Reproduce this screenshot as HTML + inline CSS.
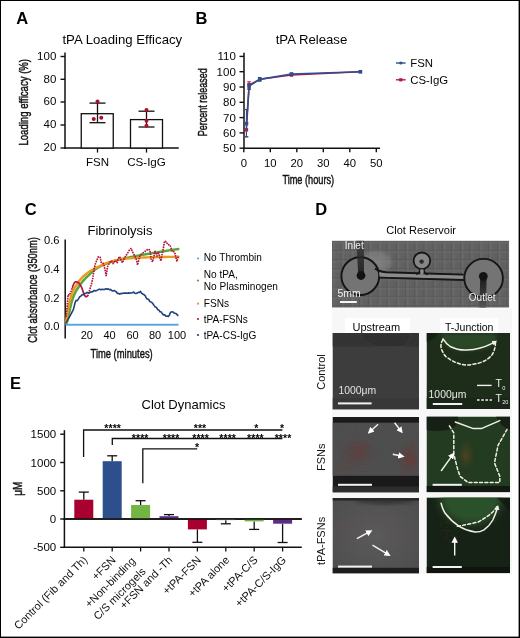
<!DOCTYPE html>
<html><head><meta charset="utf-8"><style>
html,body{margin:0;padding:0;background:#fff;}
svg{display:block;font-family:"Liberation Sans", sans-serif;will-change:transform;}
</style></head><body>
<svg width="520" height="638" viewBox="0 0 520 638">
<rect x="0" y="0" width="520" height="638" fill="#fff"/>
<text x="16.3" y="23.6" font-size="16.5" text-anchor="start" font-weight="bold" fill="#000" >A</text>
<text x="195.6" y="24" font-size="16.5" text-anchor="start" font-weight="bold" fill="#000" >B</text>
<text x="24.8" y="215" font-size="16.5" text-anchor="start" font-weight="bold" fill="#000" >C</text>
<text x="315.2" y="214.6" font-size="16.5" text-anchor="start" font-weight="bold" fill="#000" >D</text>
<text x="10" y="388.8" font-size="16.5" text-anchor="start" font-weight="bold" fill="#000" >E</text>
<text x="122.3" y="44.3" font-size="13.2" text-anchor="middle" font-weight="normal" fill="#050505" >tPA Loading Efficacy</text>
<line x1="65" y1="52.5" x2="65" y2="148.75" stroke="#111" stroke-width="1.5" />
<line x1="64.25" y1="148" x2="178.75" y2="148" stroke="#111" stroke-width="1.5" />
<line x1="60.5" y1="56.5" x2="65" y2="56.5" stroke="#111" stroke-width="1.4" />
<text x="56.3" y="59.7" font-size="11.5" text-anchor="end" font-weight="normal" fill="#050505" >100</text>
<line x1="60.5" y1="79.3" x2="65" y2="79.3" stroke="#111" stroke-width="1.4" />
<text x="56.3" y="82.5" font-size="11.5" text-anchor="end" font-weight="normal" fill="#050505" >80</text>
<line x1="60.5" y1="102" x2="65" y2="102" stroke="#111" stroke-width="1.4" />
<text x="56.3" y="105.2" font-size="11.5" text-anchor="end" font-weight="normal" fill="#050505" >60</text>
<line x1="60.5" y1="125" x2="65" y2="125" stroke="#111" stroke-width="1.4" />
<text x="56.3" y="128.2" font-size="11.5" text-anchor="end" font-weight="normal" fill="#050505" >40</text>
<line x1="60.5" y1="148" x2="65" y2="148" stroke="#111" stroke-width="1.4" />
<text x="56.3" y="151.2" font-size="11.5" text-anchor="end" font-weight="normal" fill="#050505" >20</text>
<g transform="translate(28.40,145.60) rotate(-90) scale(0.7157,1)"><text x="0" y="0" font-size="13.4" font-weight="normal" fill="#111" stroke="#111" stroke-width="0.45">Loading efficacy (%)</text></g>
<rect x="81.25" y="113.7" width="32.0" height="34.3" fill="#fff" stroke="#111" stroke-width="1.3"/>
<line x1="97.5" y1="103.1" x2="97.5" y2="122.7" stroke="#111" stroke-width="1.3" />
<line x1="89.5" y1="103.1" x2="105.5" y2="103.1" stroke="#111" stroke-width="1.3" />
<line x1="89.5" y1="122.7" x2="105.5" y2="122.7" stroke="#111" stroke-width="1.3" />
<circle cx="97.5" cy="101.5" r="2" fill="#ad0f2e"/>
<circle cx="93.75" cy="119" r="2" fill="#ad0f2e"/>
<circle cx="101.25" cy="117.75" r="2" fill="#ad0f2e"/>
<line x1="97.5" y1="148" x2="97.5" y2="152.6" stroke="#111" stroke-width="1.3" />
<rect x="130.5" y="119.6" width="32.0" height="28.400000000000006" fill="#fff" stroke="#111" stroke-width="1.3"/>
<line x1="146.5" y1="111.2" x2="146.5" y2="127" stroke="#111" stroke-width="1.3" />
<line x1="138.5" y1="111.2" x2="154.5" y2="111.2" stroke="#111" stroke-width="1.3" />
<line x1="138.5" y1="127" x2="154.5" y2="127" stroke="#111" stroke-width="1.3" />
<circle cx="146.5" cy="110" r="2" fill="#ad0f2e"/>
<circle cx="146.5" cy="120.75" r="2" fill="#ad0f2e"/>
<circle cx="146.5" cy="125.75" r="2" fill="#ad0f2e"/>
<line x1="146.5" y1="148" x2="146.5" y2="152.6" stroke="#111" stroke-width="1.3" />
<text x="97.5" y="166.2" font-size="11.5" text-anchor="middle" font-weight="normal" fill="#050505" >FSN</text>
<text x="146.5" y="166.2" font-size="11.6" text-anchor="middle" font-weight="normal" fill="#050505" >CS-IgG</text>
<text x="311.5" y="44.2" font-size="13.2" text-anchor="middle" font-weight="normal" fill="#050505" >tPA Release</text>
<line x1="244" y1="52.8" x2="244" y2="148.95" stroke="#111" stroke-width="1.5" />
<line x1="243.25" y1="148.2" x2="380" y2="148.2" stroke="#111" stroke-width="1.5" />
<line x1="239.5" y1="148.2" x2="244" y2="148.2" stroke="#111" stroke-width="1.4" />
<text x="235.8" y="152.2" font-size="11.5" text-anchor="end" font-weight="normal" fill="#050505" >50</text>
<line x1="239.5" y1="132.89999999999998" x2="244" y2="132.89999999999998" stroke="#111" stroke-width="1.4" />
<text x="235.8" y="136.89999999999998" font-size="11.5" text-anchor="end" font-weight="normal" fill="#050505" >60</text>
<line x1="239.5" y1="117.6" x2="244" y2="117.6" stroke="#111" stroke-width="1.4" />
<text x="235.8" y="121.6" font-size="11.5" text-anchor="end" font-weight="normal" fill="#050505" >70</text>
<line x1="239.5" y1="102.29999999999998" x2="244" y2="102.29999999999998" stroke="#111" stroke-width="1.4" />
<text x="235.8" y="106.29999999999998" font-size="11.5" text-anchor="end" font-weight="normal" fill="#050505" >80</text>
<line x1="239.5" y1="86.99999999999999" x2="244" y2="86.99999999999999" stroke="#111" stroke-width="1.4" />
<text x="235.8" y="90.99999999999999" font-size="11.5" text-anchor="end" font-weight="normal" fill="#050505" >90</text>
<line x1="239.5" y1="71.69999999999999" x2="244" y2="71.69999999999999" stroke="#111" stroke-width="1.4" />
<text x="235.8" y="75.69999999999999" font-size="11.5" text-anchor="end" font-weight="normal" fill="#050505" >100</text>
<line x1="239.5" y1="56.39999999999999" x2="244" y2="56.39999999999999" stroke="#111" stroke-width="1.4" />
<text x="235.8" y="60.39999999999999" font-size="11.5" text-anchor="end" font-weight="normal" fill="#050505" >110</text>
<line x1="243.8" y1="148.2" x2="243.8" y2="152.2" stroke="#111" stroke-width="1.4" />
<text x="243.8" y="166.9" font-size="11.3" text-anchor="middle" font-weight="normal" fill="#050505" >0</text>
<line x1="270.3" y1="148.2" x2="270.3" y2="152.2" stroke="#111" stroke-width="1.4" />
<text x="270.3" y="166.9" font-size="11.3" text-anchor="middle" font-weight="normal" fill="#050505" >10</text>
<line x1="296.8" y1="148.2" x2="296.8" y2="152.2" stroke="#111" stroke-width="1.4" />
<text x="296.8" y="166.9" font-size="11.3" text-anchor="middle" font-weight="normal" fill="#050505" >20</text>
<line x1="323.3" y1="148.2" x2="323.3" y2="152.2" stroke="#111" stroke-width="1.4" />
<text x="323.3" y="166.9" font-size="11.3" text-anchor="middle" font-weight="normal" fill="#050505" >30</text>
<line x1="349.8" y1="148.2" x2="349.8" y2="152.2" stroke="#111" stroke-width="1.4" />
<text x="349.8" y="166.9" font-size="11.3" text-anchor="middle" font-weight="normal" fill="#050505" >40</text>
<line x1="376.3" y1="148.2" x2="376.3" y2="152.2" stroke="#111" stroke-width="1.4" />
<text x="376.3" y="166.9" font-size="11.3" text-anchor="middle" font-weight="normal" fill="#050505" >50</text>
<g transform="translate(206.80,136.30) rotate(-90) scale(0.6732,1)"><text x="0" y="0" font-size="13.4" font-weight="normal" fill="#111" stroke="#111" stroke-width="0.45">Percent released</text></g>
<g transform="translate(282.40,183.90) scale(0.6866,1)"><text x="0" y="0" font-size="13.4" font-weight="normal" fill="#111" stroke="#111" stroke-width="0.45">Time (hours)</text></g>
<line x1="246.45000000000002" y1="136.725" x2="246.45000000000002" y2="122.95499999999998" stroke="#b7173d" stroke-width="1.1" />
<line x1="244.65" y1="136.725" x2="248.25000000000003" y2="136.725" stroke="#b7173d" stroke-width="1.1" />
<line x1="244.65" y1="122.95499999999998" x2="248.25000000000003" y2="122.95499999999998" stroke="#b7173d" stroke-width="1.1" />
<line x1="249.10000000000002" y1="89.44799999999998" x2="249.10000000000002" y2="81.79799999999997" stroke="#b7173d" stroke-width="1.1" />
<line x1="247.3" y1="89.44799999999998" x2="250.90000000000003" y2="89.44799999999998" stroke="#b7173d" stroke-width="1.1" />
<line x1="247.3" y1="81.79799999999997" x2="250.90000000000003" y2="81.79799999999997" stroke="#b7173d" stroke-width="1.1" />
<polyline points="246.45,129.84 249.10,84.86 259.70,79.35 291.50,75.07 360.40,71.70" fill="none" stroke="#b7173d" stroke-width="1.5" stroke-linejoin="round"/>
<rect x="244.75" y="128.14" width="3.4" height="3.4" fill="#b7173d"/>
<rect x="247.40" y="83.16" width="3.4" height="3.4" fill="#b7173d"/>
<rect x="258.00" y="77.65" width="3.4" height="3.4" fill="#b7173d"/>
<rect x="289.80" y="73.37" width="3.4" height="3.4" fill="#b7173d"/>
<rect x="358.70" y="70.00" width="3.4" height="3.4" fill="#b7173d"/>
<line x1="246.45000000000002" y1="136.878" x2="246.45000000000002" y2="109.49099999999999" stroke="#2f4f8f" stroke-width="1.1" />
<line x1="244.65" y1="136.878" x2="248.25000000000003" y2="136.878" stroke="#2f4f8f" stroke-width="1.1" />
<line x1="244.65" y1="109.49099999999999" x2="248.25000000000003" y2="109.49099999999999" stroke="#2f4f8f" stroke-width="1.1" />
<line x1="249.10000000000002" y1="88.22399999999999" x2="249.10000000000002" y2="83.93999999999998" stroke="#2f4f8f" stroke-width="1.1" />
<line x1="247.3" y1="88.22399999999999" x2="250.90000000000003" y2="88.22399999999999" stroke="#2f4f8f" stroke-width="1.1" />
<line x1="247.3" y1="83.93999999999998" x2="250.90000000000003" y2="83.93999999999998" stroke="#2f4f8f" stroke-width="1.1" />
<line x1="259.7" y1="81.18599999999999" x2="259.7" y2="77.51399999999998" stroke="#2f4f8f" stroke-width="1.1" />
<line x1="257.9" y1="81.18599999999999" x2="261.5" y2="81.18599999999999" stroke="#2f4f8f" stroke-width="1.1" />
<line x1="257.9" y1="77.51399999999998" x2="261.5" y2="77.51399999999998" stroke="#2f4f8f" stroke-width="1.1" />
<line x1="291.5" y1="74.75999999999999" x2="291.5" y2="73.22999999999999" stroke="#2f4f8f" stroke-width="1.1" />
<line x1="289.7" y1="74.75999999999999" x2="293.3" y2="74.75999999999999" stroke="#2f4f8f" stroke-width="1.1" />
<line x1="289.7" y1="73.22999999999999" x2="293.3" y2="73.22999999999999" stroke="#2f4f8f" stroke-width="1.1" />
<polyline points="246.45,123.72 249.10,86.08 259.70,79.35 291.50,73.99 360.40,71.70" fill="none" stroke="#2f4f8f" stroke-width="1.6" stroke-linejoin="round"/>
<rect x="244.70" y="121.97" width="3.5" height="3.5" fill="#2f4f8f"/>
<rect x="247.35" y="84.33" width="3.5" height="3.5" fill="#2f4f8f"/>
<rect x="257.95" y="77.60" width="3.5" height="3.5" fill="#2f4f8f"/>
<rect x="289.75" y="72.24" width="3.5" height="3.5" fill="#2f4f8f"/>
<rect x="358.65" y="69.95" width="3.5" height="3.5" fill="#2f4f8f"/>
<line x1="396" y1="63" x2="405.6" y2="63" stroke="#2f4f8f" stroke-width="1.4" />
<circle cx="400.8" cy="63" r="1.6" fill="#2f4f8f"/>
<text x="410.2" y="67" font-size="11.4" text-anchor="start" font-weight="normal" fill="#050505" >FSN</text>
<line x1="396" y1="79.8" x2="405.6" y2="79.8" stroke="#b7173d" stroke-width="1.4" />
<rect x="399.2" y="78.2" width="3.2" height="3.2" fill="#b7173d"/>
<text x="410.2" y="83.6" font-size="11.4" text-anchor="start" font-weight="normal" fill="#050505" >CS-IgG</text>
<text x="120" y="235" font-size="13" text-anchor="middle" font-weight="normal" fill="#050505" >Fibrinolysis</text>
<line x1="65.2" y1="239.5" x2="65.2" y2="338.5" stroke="#111" stroke-width="1.5" />
<text x="59.6" y="243.8" font-size="11.2" text-anchor="end" font-weight="normal" fill="#050505" >0.6</text>
<text x="59.6" y="272.7" font-size="11.2" text-anchor="end" font-weight="normal" fill="#050505" >0.4</text>
<text x="59.6" y="301.9" font-size="11.2" text-anchor="end" font-weight="normal" fill="#050505" >0.2</text>
<text x="59.6" y="330.3" font-size="11.2" text-anchor="end" font-weight="normal" fill="#050505" >0.0</text>
<text x="86.75" y="339.4" font-size="11" text-anchor="middle" font-weight="normal" fill="#050505" >20</text>
<text x="109.5" y="339.4" font-size="11" text-anchor="middle" font-weight="normal" fill="#050505" >40</text>
<text x="132.5" y="339.4" font-size="11" text-anchor="middle" font-weight="normal" fill="#050505" >60</text>
<text x="155" y="339.4" font-size="11" text-anchor="middle" font-weight="normal" fill="#050505" >80</text>
<text x="177" y="339.4" font-size="11" text-anchor="middle" font-weight="normal" fill="#050505" >100</text>
<g transform="translate(36.80,342.70) rotate(-90) scale(0.6996,1)"><text x="0" y="0" font-size="13.4" font-weight="normal" fill="#111" stroke="#111" stroke-width="0.45">Clot absorbance (350nm)</text></g>
<g transform="translate(90.50,357.60) scale(0.7012,1)"><text x="0" y="0" font-size="13.4" font-weight="normal" fill="#111" stroke="#111" stroke-width="0.45">Time (minutes)</text></g>
<line x1="65.5" y1="324.8" x2="178.5" y2="324.8" stroke="#5aa7e0" stroke-width="2" />
<path d="M66.80,323.00 L67.30,321.23 L67.80,319.30 L68.30,317.23 L68.80,315.05 L69.30,312.64 L69.80,309.96 L70.30,307.44 L70.80,305.32 L71.30,303.35 L71.80,301.54 L72.30,299.91 L72.80,298.42 L73.30,297.03 L73.80,295.74 L74.30,294.53 L74.80,293.42 L75.30,292.40 L75.80,291.47 L76.30,290.60 L76.80,289.79 L77.30,289.01 L77.80,288.26 L78.30,287.53 L78.80,286.80 L79.30,286.05 L79.80,285.32 L80.30,284.59 L80.80,283.88 L81.30,283.18 L81.80,282.51 L82.30,281.87 L82.80,281.26 L83.30,280.67 L83.80,280.10 L84.30,279.55 L84.80,279.02 L85.30,278.50 L85.80,277.99 L86.30,277.49 L86.80,277.00 L87.30,276.51 L87.80,276.03 L88.30,275.54 L88.80,275.05 L89.30,274.57 L89.80,274.09 L90.30,273.61 L90.80,273.14 L91.30,272.68 L91.80,272.23 L92.30,271.78 L92.80,271.35 L93.30,270.92 L93.80,270.51 L94.30,270.12 L94.80,269.73 L95.30,269.37 L95.80,269.02 L96.30,268.69 L96.80,268.38 L97.30,268.07 L97.80,267.78 L98.30,267.49 L98.80,267.21 L99.30,266.94 L99.80,266.67 L100.30,266.42 L100.80,266.16 L101.30,265.91 L101.80,265.67 L102.30,265.44 L102.80,265.21 L103.30,264.98 L103.80,264.76 L104.30,264.55 L104.80,264.33 L105.30,264.13 L105.80,263.92 L106.30,263.73 L106.80,263.53 L107.30,263.34 L107.80,263.15 L108.30,262.96 L108.80,262.78 L109.30,262.60 L109.80,262.42 L110.30,262.25 L110.80,262.08 L111.30,261.92 L111.80,261.75 L112.30,261.59 L112.80,261.43 L113.30,261.28 L113.80,261.13 L114.30,260.98 L114.80,260.83 L115.30,260.69 L115.80,260.54 L116.30,260.40 L116.80,260.26 L117.30,260.13 L117.80,259.99 L118.30,259.86 L118.80,259.73 L119.30,259.60 L119.80,259.47 L120.30,259.35 L120.80,259.23 L121.30,259.11 L121.80,258.99 L122.30,258.87 L122.80,258.76 L123.30,258.64 L123.80,258.53 L124.30,258.42 L124.80,258.31 L125.30,258.20 L125.80,258.10 L126.30,257.99 L126.80,257.89 L127.30,257.79 L127.80,257.68 L128.30,257.58 L128.80,257.48 L129.30,257.38 L129.80,257.28 L130.30,257.18 L130.80,257.08 L131.30,256.98 L131.80,256.88 L132.30,256.78 L132.80,256.68 L133.30,256.58 L133.80,256.49 L134.30,256.39 L134.80,256.29 L135.30,256.20 L135.80,256.10 L136.30,256.00 L136.80,255.91 L137.30,255.82 L137.80,255.72 L138.30,255.63 L138.80,255.53 L139.30,255.44 L139.80,255.35 L140.30,255.26 L140.80,255.16 L141.30,255.07 L141.80,254.98 L142.30,254.89 L142.80,254.80 L143.30,254.71 L143.80,254.62 L144.30,254.53 L144.80,254.44 L145.30,254.35 L145.80,254.26 L146.30,254.18 L146.80,254.09 L147.30,254.00 L147.80,253.91 L148.30,253.83 L148.80,253.74 L149.30,253.65 L149.80,253.57 L150.30,253.48 L150.80,253.39 L151.30,253.31 L151.80,253.22 L152.30,253.14 L152.80,253.05 L153.30,252.97 L153.80,252.88 L154.30,252.80 L154.80,252.72 L155.30,252.63 L155.80,252.55 L156.30,252.46 L156.80,252.38 L157.30,252.30 L157.80,252.22 L158.30,252.13 L158.80,252.05 L159.30,251.97 L159.80,251.89 L160.30,251.80 L160.80,251.72 L161.30,251.64 L161.80,251.56 L162.30,251.48 L162.80,251.40 L163.30,251.32 L163.80,251.24 L164.30,251.16 L164.80,251.08 L165.30,251.00 L165.80,250.92 L166.30,250.84 L166.80,250.76 L167.30,250.69 L167.80,250.61 L168.30,250.53 L168.80,250.45 L169.30,250.37 L169.80,250.30 L170.30,250.22 L170.80,250.14 L171.30,250.07 L171.80,249.99 L172.30,249.92 L172.80,249.84 L173.30,249.77 L173.80,249.69 L174.30,249.62 L174.80,249.54 L175.30,249.47 L175.80,249.39 L176.30,249.32 L176.80,249.25 L177.30,249.17 L177.80,249.10 L178.30,249.03" fill="none" stroke="#5aa63c" stroke-width="2.5" stroke-linejoin="round" stroke-linecap="round"/>
<path d="M66.00,322.50 L66.50,318.81 L67.00,315.44 L67.50,312.44 L68.00,309.72 L68.50,307.19 L69.00,304.73 L69.50,302.33 L70.00,300.11 L70.50,298.20 L71.00,296.58 L71.50,295.10 L72.00,293.74 L72.50,292.50 L73.00,291.35 L73.50,290.28 L74.00,289.28 L74.50,288.34 L75.00,287.46 L75.50,286.62 L76.00,285.81 L76.50,285.03 L77.00,284.25 L77.50,283.49 L78.00,282.74 L78.50,282.01 L79.00,281.30 L79.50,280.61 L80.00,279.96 L80.50,279.35 L81.00,278.77 L81.50,278.23 L82.00,277.70 L82.50,277.19 L83.00,276.70 L83.50,276.23 L84.00,275.78 L84.50,275.34 L85.00,274.91 L85.50,274.50 L86.00,274.10 L86.50,273.71 L87.00,273.33 L87.50,272.95 L88.00,272.59 L88.50,272.24 L89.00,271.90 L89.50,271.57 L90.00,271.24 L90.50,270.93 L91.00,270.62 L91.50,270.32 L92.00,270.03 L92.50,269.75 L93.00,269.47 L93.50,269.19 L94.00,268.93 L94.50,268.66 L95.00,268.41 L95.50,268.15 L96.00,267.90 L96.50,267.66 L97.00,267.41 L97.50,267.17 L98.00,266.94 L98.50,266.70 L99.00,266.47 L99.50,266.23 L100.00,266.00 L100.50,265.77 L101.00,265.53 L101.50,265.30 L102.00,265.07 L102.50,264.83 L103.00,264.61 L103.50,264.38 L104.00,264.15 L104.50,263.93 L105.00,263.72 L105.50,263.51 L106.00,263.31 L106.50,263.11 L107.00,262.92 L107.50,262.74 L108.00,262.57 L108.50,262.40 L109.00,262.24 L109.50,262.08 L110.00,261.92 L110.50,261.76 L111.00,261.61 L111.50,261.46 L112.00,261.31 L112.50,261.16 L113.00,261.02 L113.50,260.88 L114.00,260.74 L114.50,260.61 L115.00,260.48 L115.50,260.36 L116.00,260.24 L116.50,260.12 L117.00,260.01 L117.50,259.90 L118.00,259.80 L118.50,259.71 L119.00,259.62 L119.50,259.53 L120.00,259.45 L120.50,259.38 L121.00,259.30 L121.50,259.23 L122.00,259.16 L122.50,259.09 L123.00,259.02 L123.50,258.95 L124.00,258.89 L124.50,258.83 L125.00,258.77 L125.50,258.71 L126.00,258.66 L126.50,258.60 L127.00,258.55 L127.50,258.50 L128.00,258.45 L128.50,258.41 L129.00,258.37 L129.50,258.32 L130.00,258.29 L130.50,258.25 L131.00,258.21 L131.50,258.18 L132.00,258.15 L132.50,258.12 L133.00,258.08 L133.50,258.05 L134.00,258.02 L134.50,257.99 L135.00,257.97 L135.50,257.94 L136.00,257.91 L136.50,257.88 L137.00,257.85 L137.50,257.83 L138.00,257.80 L138.50,257.78 L139.00,257.75 L139.50,257.73 L140.00,257.70 L140.50,257.68 L141.00,257.66 L141.50,257.63 L142.00,257.61 L142.50,257.59 L143.00,257.57 L143.50,257.55 L144.00,257.53 L144.50,257.51 L145.00,257.49 L145.50,257.47 L146.00,257.45 L146.50,257.43 L147.00,257.41 L147.50,257.40 L148.00,257.38 L148.50,257.36 L149.00,257.35 L149.50,257.33 L150.00,257.32 L150.50,257.30 L151.00,257.29 L151.50,257.27 L152.00,257.26 L152.50,257.25 L153.00,257.23 L153.50,257.22 L154.00,257.21 L154.50,257.20 L155.00,257.18 L155.50,257.17 L156.00,257.16 L156.50,257.15 L157.00,257.14 L157.50,257.12 L158.00,257.11 L158.50,257.10 L159.00,257.09 L159.50,257.08 L160.00,257.07 L160.50,257.06 L161.00,257.04 L161.50,257.03 L162.00,257.02 L162.50,257.01 L163.00,257.00 L163.50,256.99 L164.00,256.98 L164.50,256.97 L165.00,256.96 L165.50,256.95 L166.00,256.94 L166.50,256.93 L167.00,256.93 L167.50,256.92 L168.00,256.91 L168.50,256.90 L169.00,256.89 L169.50,256.88 L170.00,256.88 L170.50,256.87 L171.00,256.86 L171.50,256.86 L172.00,256.85 L172.50,256.84 L173.00,256.84 L173.50,256.83 L174.00,256.83 L174.50,256.82 L175.00,256.82 L175.50,256.82 L176.00,256.81 L176.50,256.81 L177.00,256.81 L177.50,256.80 L178.00,256.80 L178.50,256.80" fill="none" stroke="#eb9a1e" stroke-width="2.4" stroke-linejoin="round" stroke-linecap="round"/>
<path d="M72.40,287.90 L72.55,287.37 L72.77,286.60 L73.03,285.76 L73.30,285.00 L73.59,284.33 L73.91,283.67 L74.25,283.08 L74.60,282.60 L74.96,282.26 L75.34,282.03 L75.72,281.88 L76.10,281.80 L76.48,281.80 L76.86,281.89 L77.24,282.03 L77.60,282.20 L77.93,282.38 L78.25,282.60 L78.57,282.87 L78.90,283.20 L79.26,283.61 L79.64,284.09 L80.03,284.63 L80.40,285.20 L80.76,285.81 L81.12,286.47 L81.47,287.17 L81.80,287.90 L82.12,288.68 L82.42,289.51 L82.71,290.36 L83.00,291.20 L83.26,292.05 L83.51,292.91 L83.77,293.75 L84.10,294.50 L84.52,295.23 L85.00,295.94 L85.51,296.51 L86.00,296.80 L86.52,296.68 L87.07,296.24 L87.56,295.74 L87.90,295.40" fill="none" stroke="#b5183e" stroke-width="1.7" stroke-linejoin="round"/>
<circle cx="66.20" cy="316.10" r="0.95" fill="#b5183e"/>
<circle cx="66.44" cy="313.61" r="0.95" fill="#b5183e"/>
<circle cx="66.68" cy="311.12" r="0.95" fill="#b5183e"/>
<circle cx="66.92" cy="308.64" r="0.95" fill="#b5183e"/>
<circle cx="67.17" cy="306.15" r="0.95" fill="#b5183e"/>
<circle cx="67.37" cy="303.66" r="0.95" fill="#b5183e"/>
<circle cx="67.57" cy="301.16" r="0.95" fill="#b5183e"/>
<circle cx="67.77" cy="298.67" r="0.95" fill="#b5183e"/>
<circle cx="67.97" cy="296.18" r="0.95" fill="#b5183e"/>
<circle cx="68.71" cy="295.05" r="0.95" fill="#b5183e"/>
<circle cx="69.98" cy="293.64" r="0.95" fill="#b5183e"/>
<circle cx="71.00" cy="291.36" r="0.95" fill="#b5183e"/>
<circle cx="71.94" cy="289.04" r="0.95" fill="#b5183e"/>
<circle cx="87.90" cy="295.40" r="0.95" fill="#b5183e"/>
<circle cx="88.69" cy="293.03" r="0.95" fill="#b5183e"/>
<circle cx="89.47" cy="290.65" r="0.95" fill="#b5183e"/>
<circle cx="90.20" cy="288.26" r="0.95" fill="#b5183e"/>
<circle cx="90.93" cy="285.87" r="0.95" fill="#b5183e"/>
<circle cx="91.59" cy="283.46" r="0.95" fill="#b5183e"/>
<circle cx="92.19" cy="281.03" r="0.95" fill="#b5183e"/>
<circle cx="92.72" cy="278.59" r="0.95" fill="#b5183e"/>
<circle cx="93.07" cy="276.12" r="0.95" fill="#b5183e"/>
<circle cx="93.42" cy="273.64" r="0.95" fill="#b5183e"/>
<circle cx="93.78" cy="271.17" r="0.95" fill="#b5183e"/>
<circle cx="94.17" cy="268.70" r="0.95" fill="#b5183e"/>
<circle cx="94.77" cy="266.27" r="0.95" fill="#b5183e"/>
<circle cx="95.37" cy="263.84" r="0.95" fill="#b5183e"/>
<circle cx="96.28" cy="261.53" r="0.95" fill="#b5183e"/>
<circle cx="97.28" cy="259.23" r="0.95" fill="#b5183e"/>
<circle cx="98.23" cy="256.92" r="0.95" fill="#b5183e"/>
<circle cx="100.21" cy="257.45" r="0.95" fill="#b5183e"/>
<circle cx="100.74" cy="259.86" r="0.95" fill="#b5183e"/>
<circle cx="101.21" cy="262.31" r="0.95" fill="#b5183e"/>
<circle cx="103.18" cy="263.50" r="0.95" fill="#b5183e"/>
<circle cx="104.10" cy="265.60" r="0.95" fill="#b5183e"/>
<circle cx="104.61" cy="268.05" r="0.95" fill="#b5183e"/>
<circle cx="105.16" cy="270.49" r="0.95" fill="#b5183e"/>
<circle cx="105.68" cy="272.93" r="0.95" fill="#b5183e"/>
<circle cx="106.04" cy="275.40" r="0.95" fill="#b5183e"/>
<circle cx="106.44" cy="273.73" r="0.95" fill="#b5183e"/>
<circle cx="106.84" cy="271.26" r="0.95" fill="#b5183e"/>
<circle cx="107.24" cy="268.79" r="0.95" fill="#b5183e"/>
<circle cx="107.72" cy="266.35" r="0.95" fill="#b5183e"/>
<circle cx="108.84" cy="264.12" r="0.95" fill="#b5183e"/>
<circle cx="110.21" cy="262.05" r="0.95" fill="#b5183e"/>
<circle cx="111.82" cy="261.45" r="0.95" fill="#b5183e"/>
<circle cx="113.19" cy="263.54" r="0.95" fill="#b5183e"/>
<circle cx="114.49" cy="261.73" r="0.95" fill="#b5183e"/>
<circle cx="115.89" cy="261.14" r="0.95" fill="#b5183e"/>
<circle cx="117.29" cy="262.43" r="0.95" fill="#b5183e"/>
<circle cx="117.85" cy="259.99" r="0.95" fill="#b5183e"/>
<circle cx="118.83" cy="257.73" r="0.95" fill="#b5183e"/>
<circle cx="120.00" cy="257.47" r="0.95" fill="#b5183e"/>
<circle cx="120.95" cy="259.78" r="0.95" fill="#b5183e"/>
<circle cx="122.09" cy="262.01" r="0.95" fill="#b5183e"/>
<circle cx="123.09" cy="261.30" r="0.95" fill="#b5183e"/>
<circle cx="124.01" cy="258.98" r="0.95" fill="#b5183e"/>
<circle cx="125.20" cy="256.79" r="0.95" fill="#b5183e"/>
<circle cx="126.57" cy="254.70" r="0.95" fill="#b5183e"/>
<circle cx="127.89" cy="252.58" r="0.95" fill="#b5183e"/>
<circle cx="129.14" cy="250.41" r="0.95" fill="#b5183e"/>
<circle cx="130.83" cy="248.58" r="0.95" fill="#b5183e"/>
<circle cx="131.77" cy="250.30" r="0.95" fill="#b5183e"/>
<circle cx="132.88" cy="252.53" r="0.95" fill="#b5183e"/>
<circle cx="134.10" cy="254.71" r="0.95" fill="#b5183e"/>
<circle cx="135.22" cy="256.95" r="0.95" fill="#b5183e"/>
<circle cx="136.21" cy="259.23" r="0.95" fill="#b5183e"/>
<circle cx="136.90" cy="261.64" r="0.95" fill="#b5183e"/>
<circle cx="137.35" cy="264.09" r="0.95" fill="#b5183e"/>
<circle cx="137.88" cy="263.47" r="0.95" fill="#b5183e"/>
<circle cx="138.49" cy="261.04" r="0.95" fill="#b5183e"/>
<circle cx="139.11" cy="258.62" r="0.95" fill="#b5183e"/>
<circle cx="139.80" cy="256.22" r="0.95" fill="#b5183e"/>
<circle cx="141.24" cy="254.26" r="0.95" fill="#b5183e"/>
<circle cx="143.19" cy="252.71" r="0.95" fill="#b5183e"/>
<circle cx="145.25" cy="251.29" r="0.95" fill="#b5183e"/>
<circle cx="147.17" cy="249.69" r="0.95" fill="#b5183e"/>
<circle cx="149.27" cy="249.63" r="0.95" fill="#b5183e"/>
<circle cx="150.19" cy="251.67" r="0.95" fill="#b5183e"/>
<circle cx="150.46" cy="254.15" r="0.95" fill="#b5183e"/>
<circle cx="150.74" cy="256.64" r="0.95" fill="#b5183e"/>
<circle cx="151.06" cy="259.11" r="0.95" fill="#b5183e"/>
<circle cx="152.17" cy="261.35" r="0.95" fill="#b5183e"/>
<circle cx="152.93" cy="260.28" r="0.95" fill="#b5183e"/>
<circle cx="153.54" cy="257.86" r="0.95" fill="#b5183e"/>
<circle cx="154.11" cy="255.43" r="0.95" fill="#b5183e"/>
<circle cx="154.61" cy="252.97" r="0.95" fill="#b5183e"/>
<circle cx="155.18" cy="251.45" r="0.95" fill="#b5183e"/>
<circle cx="156.11" cy="253.77" r="0.95" fill="#b5183e"/>
<circle cx="157.04" cy="255.90" r="0.95" fill="#b5183e"/>
<circle cx="157.91" cy="253.56" r="0.95" fill="#b5183e"/>
<circle cx="158.69" cy="252.81" r="0.95" fill="#b5183e"/>
<circle cx="159.25" cy="255.24" r="0.95" fill="#b5183e"/>
<circle cx="159.81" cy="257.68" r="0.95" fill="#b5183e"/>
<circle cx="160.62" cy="260.04" r="0.95" fill="#b5183e"/>
<circle cx="161.24" cy="259.55" r="0.95" fill="#b5183e"/>
<circle cx="161.65" cy="257.09" r="0.95" fill="#b5183e"/>
<circle cx="162.08" cy="254.62" r="0.95" fill="#b5183e"/>
<circle cx="162.57" cy="252.17" r="0.95" fill="#b5183e"/>
<circle cx="163.06" cy="249.72" r="0.95" fill="#b5183e"/>
<circle cx="163.54" cy="247.27" r="0.95" fill="#b5183e"/>
<circle cx="163.92" cy="244.80" r="0.95" fill="#b5183e"/>
<circle cx="164.30" cy="242.33" r="0.95" fill="#b5183e"/>
<circle cx="165.54" cy="241.52" r="0.95" fill="#b5183e"/>
<circle cx="167.03" cy="243.32" r="0.95" fill="#b5183e"/>
<circle cx="168.71" cy="244.74" r="0.95" fill="#b5183e"/>
<circle cx="170.37" cy="246.12" r="0.95" fill="#b5183e"/>
<circle cx="171.18" cy="248.49" r="0.95" fill="#b5183e"/>
<circle cx="172.06" cy="250.83" r="0.95" fill="#b5183e"/>
<circle cx="173.68" cy="251.61" r="0.95" fill="#b5183e"/>
<circle cx="174.97" cy="253.44" r="0.95" fill="#b5183e"/>
<circle cx="175.53" cy="255.87" r="0.95" fill="#b5183e"/>
<circle cx="176.09" cy="258.31" r="0.95" fill="#b5183e"/>
<circle cx="176.77" cy="260.71" r="0.95" fill="#b5183e"/>
<circle cx="177.38" cy="259.86" r="0.95" fill="#b5183e"/>
<circle cx="177.94" cy="257.43" r="0.95" fill="#b5183e"/>
<path d="M65.80,323.23 L67.60,319.96 L69.50,316.92 L71.40,313.45 L73.30,309.68 L75.20,302.29 L76.10,300.42 L77.30,300.62 L78.50,298.86 L79.65,296.93 L80.80,296.09 L82.07,294.73 L83.33,294.60 L84.60,293.47 L85.87,293.39 L87.13,292.41 L88.40,292.79 L89.58,292.77 L90.75,291.93 L91.92,291.89 L93.10,291.44 L94.27,290.34 L95.45,291.06 L96.62,290.58 L97.80,289.92 L99.20,289.09 L100.60,289.81 L102.05,289.21 L103.50,289.51 L104.75,289.38 L106.00,288.80 L107.12,289.34 L108.25,288.85 L109.38,289.67 L110.50,289.42 L111.67,290.61 L112.83,291.03 L114.00,290.44 L115.14,291.09 L116.28,291.80 L117.42,293.45 L118.56,293.31 L119.70,294.18 L120.76,293.52 L121.82,293.61 L122.88,293.24 L123.94,292.99 L125.00,293.12 L126.03,293.00 L127.07,293.33 L128.10,292.90 L129.13,293.13 L130.17,292.92 L131.20,292.99 L132.40,292.66 L133.60,292.08 L134.80,293.18 L136.00,293.45 L137.12,293.12 L138.25,292.40 L139.38,292.35 L140.50,291.40 L141.67,293.33 L142.83,294.04 L144.00,294.70 L145.14,295.59 L146.28,297.90 L147.42,299.29 L148.56,299.22 L149.70,301.42 L150.77,301.87 L151.85,302.51 L152.93,303.71 L154.00,305.38 L155.22,306.97 L156.45,307.26 L157.68,309.51 L158.90,310.16 L159.95,311.71 L161.00,311.76 L162.25,313.63 L163.50,314.87 L164.75,314.86 L166.00,316.20 L167.10,316.08 L168.20,316.61 L169.35,315.24 L170.50,312.34 L171.65,312.03 L172.80,311.77 L174.15,313.10 L175.50,313.52 L176.50,313.83 L177.50,315.45 L178.50,315.40" fill="none" stroke="#20407f" stroke-width="1.6" stroke-linejoin="round"/>
<circle cx="198" cy="258.5" r="1.1" fill="#5aa7e0"/>
<circle cx="198" cy="280.6" r="1.1" fill="#5aa63c"/>
<circle cx="198" cy="303.7" r="1.1" fill="#eb9a1e"/>
<circle cx="198" cy="319" r="1.1" fill="#b5183e"/>
<circle cx="198" cy="335" r="1.1" fill="#20407f"/>
<text x="203.8" y="261.3" font-size="10.1" text-anchor="start" font-weight="normal" fill="#050505" >No Thrombin</text>
<text x="203.8" y="277.7" font-size="10.1" text-anchor="start" font-weight="normal" fill="#050505" >No tPA,</text>
<text x="203.8" y="290.2" font-size="10.1" text-anchor="start" font-weight="normal" fill="#050505" >No Plasminogen</text>
<text x="203.8" y="306.5" font-size="10.1" text-anchor="start" font-weight="normal" fill="#050505" >FSNs</text>
<text x="203.8" y="322.5" font-size="10.1" text-anchor="start" font-weight="normal" fill="#050505" >tPA-FSNs</text>
<text x="203.8" y="338.7" font-size="10.1" text-anchor="start" font-weight="normal" fill="#050505" >tPA-CS-IgG</text>
<text x="421.2" y="233.6" font-size="11" text-anchor="middle" font-weight="normal" fill="#050505" >Clot Reservoir</text>
<defs><pattern id="grid" x="331.5" y="240.6" width="9.2" height="9.2" patternUnits="userSpaceOnUse"><rect width="9.2" height="9.2" fill="#616161"/><rect x="0" width="1.2" height="9.2" fill="#555"/><rect x="1.2" width="2.2" height="9.2" fill="#696969"/><rect y="0" width="9.2" height="1.2" fill="#575757" opacity="0.8"/><rect y="1.2" width="9.2" height="2" fill="#6a6a6a" opacity="0.6"/></pattern><radialGradient id="clotblob" cx="0.5" cy="0.5" r="0.5"><stop offset="0" stop-color="#8a8a8a" stop-opacity="0.8"/><stop offset="0.7" stop-color="#8a8a8a" stop-opacity="0.5"/><stop offset="1" stop-color="#8a8a8a" stop-opacity="0"/></radialGradient><linearGradient id="inletg" x1="0" y1="0" x2="0" y2="1"><stop offset="0" stop-color="#444"/><stop offset="0.5" stop-color="#2a2a2a"/><stop offset="1" stop-color="#1a1a1a"/></linearGradient><linearGradient id="outletg" x1="0" y1="0" x2="0" y2="1"><stop offset="0" stop-color="#1a1a1a"/><stop offset="0.6" stop-color="#3a3a3a"/><stop offset="1" stop-color="#555"/></linearGradient><radialGradient id="redhaze" cx="0.5" cy="0.5" r="0.5"><stop offset="0" stop-color="#7a2a2a" stop-opacity="0.45"/><stop offset="1" stop-color="#602020" stop-opacity="0"/></radialGradient><radialGradient id="orhaze" cx="0.5" cy="0.5" r="0.5"><stop offset="0" stop-color="#7a5020" stop-opacity="0.45"/><stop offset="1" stop-color="#604020" stop-opacity="0"/></radialGradient><radialGradient id="gblob1" cx="0.5" cy="0.2" r="0.75"><stop offset="0" stop-color="#2e5029"/><stop offset="0.75" stop-color="#294624"/><stop offset="1" stop-color="#203520" stop-opacity="0"/></radialGradient><radialGradient id="gblob3" cx="0.5" cy="0.4" r="0.6"><stop offset="0" stop-color="#3a6a37"/><stop offset="0.7" stop-color="#2f5a2d"/><stop offset="1" stop-color="#1c2b19" stop-opacity="0"/></radialGradient><radialGradient id="upg3" cx="0.5" cy="0.5" r="0.7"><stop offset="0" stop-color="#5a5a5a"/><stop offset="1" stop-color="#4c4c4c"/></radialGradient><filter id="noise" x="0" y="0" width="1" height="1"><feTurbulence type="fractalNoise" baseFrequency="0.9" numOctaves="1" seed="4"/><feColorMatrix type="matrix" values="0 0 0 0 0.5  0 0 0 0 0.5  0 0 0 0 0.5  0 0 0 0.9 -0.2"/></filter><filter id="blur2" x="-0.2" y="-0.2" width="1.4" height="1.4"><feGaussianBlur stdDeviation="2"/></filter><filter id="blur3" x="-0.3" y="-0.3" width="1.6" height="1.6"><feGaussianBlur stdDeviation="4"/></filter><clipPath id="c1L"><rect x="332.5" y="333" width="86.5" height="76.5"/></clipPath><clipPath id="c1R"><rect x="426.5" y="333" width="83.5" height="76"/></clipPath><clipPath id="c2L"><rect x="332.5" y="417" width="86.5" height="75.5"/></clipPath><clipPath id="c2R"><rect x="426.5" y="416.5" width="83.5" height="75.8"/></clipPath><clipPath id="c3L"><rect x="332.5" y="498" width="86.5" height="75.5"/></clipPath><clipPath id="c3R"><rect x="426.5" y="497.4" width="83.5" height="75.8"/></clipPath><clipPath id="cP"><rect x="331.9" y="240.6" width="177.4" height="67.1"/></clipPath><marker id="ah" viewBox="0 0 10 10" refX="6" refY="5" markerWidth="4.6" markerHeight="4.6" orient="auto"><path d="M0,0 L10,5 L0,10 z" fill="#fff"/></marker><marker id="ahs" viewBox="0 0 10 10" refX="6" refY="5" markerWidth="3.4" markerHeight="3.4" orient="auto"><path d="M0,0 L10,5 L0,10 z" fill="#eee"/></marker></defs>
<g clip-path="url(#cP)">
<rect x="331.9" y="240.6" width="177.40000000000003" height="67.1" fill="url(#grid)"/>
<ellipse cx="376" cy="262" rx="18" ry="13" fill="url(#clotblob)"/>
<circle cx="360.3" cy="276.1" r="18.9" fill="#747474" stroke="#141414" stroke-width="1.9"/>
<path d="M356.5,240.6 L363.8,240.6 L364,272 L358,272 Z" fill="url(#inletg)" opacity="0.85"/>
<circle cx="361" cy="275.5" r="4.4" fill="#131313"/>
<path d="M379,272.5 L463,275.3 L463.5,279.3 L379.6,276.8 Z" fill="#8c8c8c"/>
<path d="M375,268.5 Q379,271.6 386,272.2 L463.5,274.6" fill="none" stroke="#151515" stroke-width="1.9"/>
<path d="M379.3,277.6 L463.8,280" fill="none" stroke="#151515" stroke-width="1.9"/>
<circle cx="421.9" cy="260.8" r="8.3" fill="#868686" stroke="#151515" stroke-width="1.8"/>
<circle cx="421.6" cy="261.6" r="2.2" fill="#2a2a2a"/>
<path d="M419.6,268.8 Q420.4,272.5 416.5,274.6 M424.2,268.8 Q423.6,272.5 427.5,274.9" fill="none" stroke="#151515" stroke-width="1.5"/>
<rect x="420.4" y="269.4" width="3" height="5.2" fill="#8e8e8e"/>
<circle cx="483.6" cy="278.2" r="19.3" fill="#747474" stroke="#151515" stroke-width="1.9"/>
<path d="M480.2,277 L486.6,277 L486,307.7 L479.4,307.7 Z" fill="url(#outletg)"/>
<circle cx="483.3" cy="276.3" r="4.4" fill="#131313"/>
</g>
<text x="344.8" y="248.8" font-size="10" text-anchor="start" font-weight="normal" fill="#eeeeee" >Inlet</text>
<text x="468.8" y="301.3" font-size="10" text-anchor="start" font-weight="normal" fill="#eeeeee" >Outlet</text>
<text x="337.6" y="296.8" font-size="10.4" text-anchor="start" font-weight="normal" fill="#f2f2f2" >5mm</text>
<rect x="340" y="301" width="16.8" height="2" fill="#f4f4f4"/>
<rect x="332" y="308.5" width="180" height="265.5" fill="#f7f7f7"/>
<rect x="345" y="318" width="65" height="15" fill="#fff"/>
<rect x="440" y="318" width="58" height="15" fill="#fff"/>
<text x="376.3" y="330.7" font-size="11" text-anchor="middle" font-weight="normal" fill="#050505" >Upstream</text>
<text x="469.2" y="330.6" font-size="10.5" text-anchor="middle" font-weight="normal" fill="#050505" >T-Junction</text>
<g transform="translate(324.6,372) rotate(-90)"><text x="0" y="0" font-size="11" text-anchor="middle" fill="#111">Control</text></g>
<g transform="translate(324.6,457.3) rotate(-90)"><text x="0" y="0" font-size="11" text-anchor="middle" fill="#111">FSNs</text></g>
<g transform="translate(324.6,540.9) rotate(-90)"><text x="0" y="0" font-size="11" text-anchor="middle" fill="#111">tPA-FSNs</text></g>
<g clip-path="url(#c1L)">
<rect x="332.5" y="333" width="86.5" height="76.5" fill="#3c3c3c"/>
<rect x="332.5" y="333" width="86.5" height="13.5" fill="#323232"/>
<path d="M360,333 Q364,345 380,346.8 L402,346.5 Q412,341 410,333 Z" fill="#2c2c2c" opacity="0.5" stroke="#444" stroke-width="0.8"/>
<rect x="332.5" y="398" width="86.5" height="11.5" fill="#373737"/>
<rect x="332.5" y="333" width="86.5" height="76.5" filter="url(#noise)" opacity="0.06"/>
</g>
<text x="338.5" y="394" font-size="10.4" text-anchor="start" font-weight="normal" fill="#e0e0e0" >1000μm</text>
<rect x="338" y="402.4" width="33.6" height="2" fill="#f2f2f2"/>
<g clip-path="url(#c1R)">
<rect x="426.5" y="333" width="83.5" height="76" fill="#1d2d1a"/>
<path d="M441,333 L496,333 Q497,345 490,347 Q470,353 450,348 Q441,343 441,333 Z" fill="#294626" filter="url(#blur2)"/>
<path d="M426.5,333 L438,333 Q434,340 426.5,342 Z" fill="#141c12" opacity="0.8"/>
<rect x="426.5" y="398" width="83.5" height="11" fill="#1a2718"/>
</g>
<path d="M443,338.8 Q446,343.5 450.2,346.5 Q458,350.4 466.4,350.1 Q474,349.6 479.3,348.2 Q486,346.5 490.6,344.1 Q493.5,342.8 495.3,341.8" fill="none" stroke="#f0f0e4" stroke-width="1.5" stroke-linecap="round" stroke-linejoin="round" marker-end="url(#ahs)"/>
<path d="M443,339.6 Q440,344 441.3,348.2 Q442.5,352.5 445.4,356.2 Q455,364 466.4,365.1 Q475,364.6 482.5,361.9 Q489,358.8 492.2,354.6 Q495.4,349 495.5,342.5" fill="none" stroke="#f0f0e4" stroke-width="1.5" stroke-linecap="round" stroke-linejoin="round" stroke-dasharray="3 2.3" stroke-linecap="butt"/>
<line x1="477" y1="385.4" x2="491.6" y2="385.4" stroke="#f0f0f0" stroke-width="1.4" />
<line x1="477" y1="400" x2="492" y2="400" stroke="#f0f0f0" stroke-width="1.4" stroke-dasharray="2.6 1.6"/>
<text x="495.6" y="387.3" font-size="10.5" text-anchor="start" font-weight="normal" fill="#eeeeee" >T</text>
<text x="502.2" y="389.6" font-size="5.6" text-anchor="start" font-weight="normal" fill="#eeeeee" >0</text>
<text x="495.6" y="401.8" font-size="10.5" text-anchor="start" font-weight="normal" fill="#eeeeee" >T</text>
<text x="502.2" y="404.2" font-size="5.6" text-anchor="start" font-weight="normal" fill="#eeeeee" >20</text>
<text x="428.6" y="397.5" font-size="10.4" text-anchor="start" font-weight="normal" fill="#e8e8e8" >1000μm</text>
<rect x="432.8" y="403" width="29.4" height="2" fill="#f2f2f2"/>
<g clip-path="url(#c2L)">
<rect x="332.5" y="417" width="86.5" height="75.5" fill="#1a1a1a"/>
<rect x="332.5" y="422.7" width="86.5" height="53.1" fill="#4b4b4b"/>
<rect x="332.5" y="422.7" width="86.5" height="53.1" filter="url(#noise)" opacity="0.12"/>
<ellipse cx="358" cy="452" rx="18" ry="15" fill="url(#redhaze)" opacity="0.6"/>
<ellipse cx="409" cy="458" rx="13" ry="18" fill="url(#redhaze)" opacity="0.7"/>
<rect x="349.1" y="468.6" width="0.8" height="0.8" fill="#a02424" opacity="0.66"/>
<rect x="350.8" y="456.2" width="0.8" height="0.8" fill="#a02424" opacity="0.51"/>
<rect x="350.5" y="441.5" width="0.8" height="0.8" fill="#a02424" opacity="0.52"/>
<rect x="342.4" y="437.0" width="0.8" height="0.8" fill="#a02424" opacity="0.50"/>
<rect x="345.0" y="455.4" width="0.8" height="0.8" fill="#a02424" opacity="0.40"/>
<rect x="350.2" y="470.9" width="0.8" height="0.8" fill="#a02424" opacity="0.51"/>
<rect x="356.7" y="449.6" width="0.8" height="0.8" fill="#a02424" opacity="0.47"/>
<rect x="356.4" y="449.2" width="0.8" height="0.8" fill="#a02424" opacity="0.55"/>
<rect x="355.9" y="447.9" width="0.8" height="0.8" fill="#a02424" opacity="0.55"/>
<rect x="344.7" y="452.5" width="0.8" height="0.8" fill="#a02424" opacity="0.44"/>
<rect x="354.1" y="437.4" width="0.8" height="0.8" fill="#a02424" opacity="0.31"/>
<rect x="370.5" y="454.5" width="0.8" height="0.8" fill="#a02424" opacity="0.69"/>
<rect x="357.9" y="458.8" width="0.8" height="0.8" fill="#a02424" opacity="0.54"/>
<rect x="354.4" y="456.9" width="0.8" height="0.8" fill="#a02424" opacity="0.43"/>
<rect x="349.8" y="457.9" width="0.8" height="0.8" fill="#a02424" opacity="0.42"/>
<rect x="346.9" y="459.6" width="0.8" height="0.8" fill="#a02424" opacity="0.31"/>
<rect x="344.7" y="444.5" width="0.8" height="0.8" fill="#a02424" opacity="0.42"/>
<rect x="360.8" y="464.2" width="0.8" height="0.8" fill="#a02424" opacity="0.40"/>
<rect x="361.7" y="457.9" width="0.8" height="0.8" fill="#a02424" opacity="0.58"/>
<rect x="364.4" y="454.2" width="0.8" height="0.8" fill="#a02424" opacity="0.43"/>
<rect x="362.8" y="442.6" width="0.8" height="0.8" fill="#a02424" opacity="0.64"/>
<rect x="362.0" y="456.3" width="0.8" height="0.8" fill="#a02424" opacity="0.56"/>
<rect x="365.4" y="444.2" width="0.8" height="0.8" fill="#a02424" opacity="0.39"/>
<rect x="366.0" y="456.8" width="0.8" height="0.8" fill="#a02424" opacity="0.38"/>
<rect x="364.0" y="435.7" width="0.8" height="0.8" fill="#a02424" opacity="0.37"/>
<rect x="355.1" y="464.3" width="0.8" height="0.8" fill="#a02424" opacity="0.56"/>
<rect x="360.9" y="443.1" width="0.8" height="0.8" fill="#a02424" opacity="0.35"/>
<rect x="353.8" y="463.7" width="0.8" height="0.8" fill="#a02424" opacity="0.41"/>
<rect x="352.7" y="456.8" width="0.8" height="0.8" fill="#a02424" opacity="0.47"/>
<rect x="340.9" y="459.7" width="0.8" height="0.8" fill="#a02424" opacity="0.36"/>
<rect x="379.6" y="450.6" width="0.8" height="0.8" fill="#a02424" opacity="0.65"/>
<rect x="367.6" y="449.3" width="0.8" height="0.8" fill="#a02424" opacity="0.68"/>
<rect x="363.7" y="447.5" width="0.8" height="0.8" fill="#a02424" opacity="0.60"/>
<rect x="364.9" y="439.9" width="0.8" height="0.8" fill="#a02424" opacity="0.51"/>
<rect x="356.0" y="457.1" width="0.8" height="0.8" fill="#a02424" opacity="0.39"/>
<rect x="368.9" y="454.4" width="0.8" height="0.8" fill="#a02424" opacity="0.41"/>
<rect x="359.0" y="447.7" width="0.8" height="0.8" fill="#a02424" opacity="0.66"/>
<rect x="350.9" y="433.0" width="0.8" height="0.8" fill="#a02424" opacity="0.66"/>
<rect x="367.5" y="443.8" width="0.8" height="0.8" fill="#a02424" opacity="0.31"/>
<rect x="357.8" y="445.1" width="0.8" height="0.8" fill="#a02424" opacity="0.42"/>
<rect x="352.3" y="441.7" width="0.8" height="0.8" fill="#a02424" opacity="0.47"/>
<rect x="369.5" y="445.9" width="0.8" height="0.8" fill="#a02424" opacity="0.44"/>
<rect x="357.7" y="465.9" width="0.8" height="0.8" fill="#a02424" opacity="0.49"/>
<rect x="359.7" y="442.7" width="0.8" height="0.8" fill="#a02424" opacity="0.38"/>
<rect x="341.8" y="446.8" width="0.8" height="0.8" fill="#a02424" opacity="0.37"/>
<rect x="363.3" y="432.6" width="0.8" height="0.8" fill="#a02424" opacity="0.62"/>
<rect x="358.5" y="449.1" width="0.8" height="0.8" fill="#a02424" opacity="0.55"/>
<rect x="359.9" y="448.1" width="0.8" height="0.8" fill="#a02424" opacity="0.41"/>
<rect x="356.7" y="459.7" width="0.8" height="0.8" fill="#a02424" opacity="0.47"/>
<rect x="342.6" y="452.3" width="0.8" height="0.8" fill="#a02424" opacity="0.30"/>
<rect x="362.4" y="451.4" width="0.8" height="0.8" fill="#a02424" opacity="0.35"/>
<rect x="380.2" y="459.0" width="0.8" height="0.8" fill="#a02424" opacity="0.64"/>
<rect x="367.1" y="454.9" width="0.8" height="0.8" fill="#a02424" opacity="0.43"/>
<rect x="354.7" y="456.8" width="0.8" height="0.8" fill="#a02424" opacity="0.56"/>
<rect x="350.7" y="446.1" width="0.8" height="0.8" fill="#a02424" opacity="0.38"/>
<rect x="355.8" y="453.6" width="0.8" height="0.8" fill="#a02424" opacity="0.52"/>
<rect x="356.1" y="442.4" width="0.8" height="0.8" fill="#a02424" opacity="0.33"/>
<rect x="361.8" y="457.0" width="0.8" height="0.8" fill="#a02424" opacity="0.54"/>
<rect x="359.8" y="442.3" width="0.8" height="0.8" fill="#a02424" opacity="0.62"/>
<rect x="351.1" y="444.1" width="0.8" height="0.8" fill="#a02424" opacity="0.45"/>
<rect x="344.0" y="450.3" width="0.8" height="0.8" fill="#a02424" opacity="0.47"/>
<rect x="354.6" y="441.7" width="0.8" height="0.8" fill="#a02424" opacity="0.40"/>
<rect x="344.5" y="447.2" width="0.8" height="0.8" fill="#a02424" opacity="0.33"/>
<rect x="349.6" y="453.8" width="0.8" height="0.8" fill="#a02424" opacity="0.65"/>
<rect x="366.0" y="447.0" width="0.8" height="0.8" fill="#a02424" opacity="0.66"/>
<rect x="359.8" y="444.0" width="0.8" height="0.8" fill="#a02424" opacity="0.49"/>
<rect x="369.8" y="460.2" width="0.8" height="0.8" fill="#a02424" opacity="0.56"/>
<rect x="370.1" y="440.8" width="0.8" height="0.8" fill="#a02424" opacity="0.57"/>
<rect x="356.8" y="439.7" width="0.8" height="0.8" fill="#a02424" opacity="0.34"/>
<rect x="357.2" y="449.6" width="0.8" height="0.8" fill="#a02424" opacity="0.36"/>
<rect x="358.4" y="447.6" width="0.8" height="0.8" fill="#a02424" opacity="0.34"/>
<rect x="373.1" y="459.6" width="0.8" height="0.8" fill="#a02424" opacity="0.37"/>
<rect x="375.1" y="452.3" width="0.8" height="0.8" fill="#a02424" opacity="0.35"/>
<rect x="365.5" y="440.1" width="0.8" height="0.8" fill="#a02424" opacity="0.63"/>
<rect x="369.3" y="446.9" width="0.8" height="0.8" fill="#a02424" opacity="0.62"/>
<rect x="373.0" y="453.1" width="0.8" height="0.8" fill="#a02424" opacity="0.50"/>
<rect x="357.1" y="446.3" width="0.8" height="0.8" fill="#a02424" opacity="0.60"/>
<rect x="360.9" y="448.9" width="0.8" height="0.8" fill="#a02424" opacity="0.43"/>
<rect x="342.5" y="444.1" width="0.8" height="0.8" fill="#a02424" opacity="0.40"/>
<rect x="360.9" y="455.5" width="0.8" height="0.8" fill="#a02424" opacity="0.55"/>
<rect x="358.2" y="442.0" width="0.8" height="0.8" fill="#a02424" opacity="0.45"/>
<rect x="351.3" y="454.5" width="0.8" height="0.8" fill="#a02424" opacity="0.47"/>
<rect x="367.2" y="454.7" width="0.8" height="0.8" fill="#a02424" opacity="0.69"/>
<rect x="345.3" y="456.9" width="0.8" height="0.8" fill="#a02424" opacity="0.36"/>
<rect x="352.5" y="437.5" width="0.8" height="0.8" fill="#a02424" opacity="0.57"/>
<rect x="347.7" y="449.0" width="0.8" height="0.8" fill="#a02424" opacity="0.56"/>
<rect x="362.1" y="447.3" width="0.8" height="0.8" fill="#a02424" opacity="0.34"/>
<rect x="357.8" y="432.2" width="0.8" height="0.8" fill="#a02424" opacity="0.51"/>
<rect x="344.6" y="454.5" width="0.8" height="0.8" fill="#a02424" opacity="0.37"/>
<rect x="357.3" y="455.3" width="0.8" height="0.8" fill="#a02424" opacity="0.53"/>
<rect x="355.4" y="455.3" width="0.8" height="0.8" fill="#a02424" opacity="0.58"/>
<rect x="365.2" y="448.1" width="0.8" height="0.8" fill="#a02424" opacity="0.58"/>
<rect x="342.9" y="458.1" width="0.8" height="0.8" fill="#a02424" opacity="0.53"/>
<rect x="357.3" y="455.6" width="0.8" height="0.8" fill="#a02424" opacity="0.31"/>
<rect x="349.2" y="451.0" width="0.8" height="0.8" fill="#a02424" opacity="0.37"/>
<rect x="352.9" y="455.4" width="0.8" height="0.8" fill="#a02424" opacity="0.61"/>
<rect x="375.2" y="469.3" width="0.8" height="0.8" fill="#a02424" opacity="0.49"/>
<rect x="349.8" y="444.8" width="0.8" height="0.8" fill="#a02424" opacity="0.63"/>
<rect x="363.0" y="440.8" width="0.8" height="0.8" fill="#a02424" opacity="0.49"/>
<rect x="354.8" y="434.5" width="0.8" height="0.8" fill="#a02424" opacity="0.46"/>
<rect x="355.6" y="429.8" width="0.8" height="0.8" fill="#a02424" opacity="0.49"/>
<rect x="358.8" y="455.8" width="0.8" height="0.8" fill="#a02424" opacity="0.59"/>
<rect x="347.7" y="432.0" width="0.8" height="0.8" fill="#a02424" opacity="0.64"/>
<rect x="358.3" y="455.2" width="0.8" height="0.8" fill="#a02424" opacity="0.40"/>
<rect x="363.4" y="461.5" width="0.8" height="0.8" fill="#a02424" opacity="0.64"/>
<rect x="363.6" y="446.4" width="0.8" height="0.8" fill="#a02424" opacity="0.65"/>
<rect x="354.3" y="457.7" width="0.8" height="0.8" fill="#a02424" opacity="0.59"/>
<rect x="361.4" y="451.8" width="0.8" height="0.8" fill="#a02424" opacity="0.63"/>
<rect x="355.8" y="457.3" width="0.8" height="0.8" fill="#a02424" opacity="0.53"/>
<rect x="357.5" y="449.2" width="0.8" height="0.8" fill="#a02424" opacity="0.43"/>
<rect x="348.4" y="453.6" width="0.8" height="0.8" fill="#a02424" opacity="0.38"/>
<rect x="338.7" y="439.8" width="0.8" height="0.8" fill="#a02424" opacity="0.46"/>
<rect x="353.6" y="448.9" width="0.8" height="0.8" fill="#a02424" opacity="0.41"/>
<rect x="355.8" y="446.6" width="0.8" height="0.8" fill="#a02424" opacity="0.65"/>
<rect x="361.4" y="448.0" width="0.8" height="0.8" fill="#a02424" opacity="0.68"/>
<rect x="347.1" y="459.8" width="0.8" height="0.8" fill="#a02424" opacity="0.60"/>
<rect x="354.2" y="461.5" width="0.8" height="0.8" fill="#a02424" opacity="0.56"/>
<rect x="360.4" y="444.1" width="0.8" height="0.8" fill="#a02424" opacity="0.60"/>
<rect x="371.1" y="447.1" width="0.8" height="0.8" fill="#a02424" opacity="0.51"/>
<rect x="366.0" y="456.1" width="0.8" height="0.8" fill="#a02424" opacity="0.44"/>
<rect x="406.2" y="444.7" width="0.8" height="0.8" fill="#a02424" opacity="0.53"/>
<rect x="411.6" y="469.8" width="0.8" height="0.8" fill="#a02424" opacity="0.55"/>
<rect x="406.3" y="454.2" width="0.8" height="0.8" fill="#a02424" opacity="0.67"/>
<rect x="411.4" y="464.3" width="0.8" height="0.8" fill="#a02424" opacity="0.59"/>
<rect x="401.8" y="451.4" width="0.8" height="0.8" fill="#a02424" opacity="0.56"/>
<rect x="403.0" y="460.0" width="0.8" height="0.8" fill="#a02424" opacity="0.37"/>
<rect x="416.6" y="464.0" width="0.8" height="0.8" fill="#a02424" opacity="0.60"/>
<rect x="398.5" y="454.0" width="0.8" height="0.8" fill="#a02424" opacity="0.44"/>
<rect x="407.4" y="466.8" width="0.8" height="0.8" fill="#a02424" opacity="0.65"/>
<rect x="414.9" y="460.8" width="0.8" height="0.8" fill="#a02424" opacity="0.40"/>
<rect x="408.7" y="449.6" width="0.8" height="0.8" fill="#a02424" opacity="0.43"/>
<rect x="401.8" y="464.4" width="0.8" height="0.8" fill="#a02424" opacity="0.61"/>
<rect x="401.0" y="471.9" width="0.8" height="0.8" fill="#a02424" opacity="0.34"/>
<rect x="407.6" y="462.1" width="0.8" height="0.8" fill="#a02424" opacity="0.35"/>
<rect x="409.8" y="443.7" width="0.8" height="0.8" fill="#a02424" opacity="0.37"/>
<rect x="410.3" y="466.7" width="0.8" height="0.8" fill="#a02424" opacity="0.60"/>
<rect x="412.0" y="444.3" width="0.8" height="0.8" fill="#a02424" opacity="0.54"/>
<rect x="411.7" y="465.2" width="0.8" height="0.8" fill="#a02424" opacity="0.38"/>
<rect x="400.3" y="456.0" width="0.8" height="0.8" fill="#a02424" opacity="0.38"/>
<rect x="408.0" y="473.7" width="0.8" height="0.8" fill="#a02424" opacity="0.31"/>
<rect x="412.1" y="440.1" width="0.8" height="0.8" fill="#a02424" opacity="0.68"/>
<rect x="402.4" y="465.6" width="0.8" height="0.8" fill="#a02424" opacity="0.53"/>
<rect x="397.0" y="439.6" width="0.8" height="0.8" fill="#a02424" opacity="0.57"/>
<rect x="404.4" y="475.0" width="0.8" height="0.8" fill="#a02424" opacity="0.49"/>
<rect x="400.2" y="449.4" width="0.8" height="0.8" fill="#a02424" opacity="0.30"/>
<rect x="409.1" y="444.9" width="0.8" height="0.8" fill="#a02424" opacity="0.50"/>
<rect x="401.4" y="456.5" width="0.8" height="0.8" fill="#a02424" opacity="0.38"/>
<rect x="406.4" y="457.5" width="0.8" height="0.8" fill="#a02424" opacity="0.50"/>
<rect x="404.0" y="450.3" width="0.8" height="0.8" fill="#a02424" opacity="0.53"/>
<rect x="415.0" y="470.0" width="0.8" height="0.8" fill="#a02424" opacity="0.55"/>
<rect x="413.4" y="460.7" width="0.8" height="0.8" fill="#a02424" opacity="0.39"/>
<rect x="414.6" y="463.3" width="0.8" height="0.8" fill="#a02424" opacity="0.67"/>
<rect x="402.6" y="474.3" width="0.8" height="0.8" fill="#a02424" opacity="0.58"/>
<rect x="415.9" y="471.3" width="0.8" height="0.8" fill="#a02424" opacity="0.54"/>
<rect x="416.5" y="451.7" width="0.8" height="0.8" fill="#a02424" opacity="0.60"/>
<rect x="402.0" y="471.6" width="0.8" height="0.8" fill="#a02424" opacity="0.67"/>
<rect x="412.1" y="450.6" width="0.8" height="0.8" fill="#a02424" opacity="0.60"/>
<rect x="405.1" y="458.4" width="0.8" height="0.8" fill="#a02424" opacity="0.32"/>
<rect x="411.5" y="460.8" width="0.8" height="0.8" fill="#a02424" opacity="0.36"/>
<rect x="398.7" y="458.3" width="0.8" height="0.8" fill="#a02424" opacity="0.51"/>
<rect x="400.3" y="464.1" width="0.8" height="0.8" fill="#a02424" opacity="0.42"/>
<rect x="398.2" y="461.4" width="0.8" height="0.8" fill="#a02424" opacity="0.46"/>
<rect x="406.9" y="449.5" width="0.8" height="0.8" fill="#a02424" opacity="0.45"/>
<rect x="400.1" y="455.8" width="0.8" height="0.8" fill="#a02424" opacity="0.39"/>
<rect x="412.1" y="458.1" width="0.8" height="0.8" fill="#a02424" opacity="0.61"/>
<rect x="412.1" y="465.8" width="0.8" height="0.8" fill="#a02424" opacity="0.38"/>
<rect x="408.9" y="463.3" width="0.8" height="0.8" fill="#a02424" opacity="0.46"/>
<rect x="408.7" y="459.9" width="0.8" height="0.8" fill="#a02424" opacity="0.34"/>
<rect x="411.4" y="467.1" width="0.8" height="0.8" fill="#a02424" opacity="0.32"/>
<rect x="414.5" y="459.4" width="0.8" height="0.8" fill="#a02424" opacity="0.46"/>
<rect x="407.4" y="455.2" width="0.8" height="0.8" fill="#a02424" opacity="0.46"/>
<rect x="406.9" y="459.3" width="0.8" height="0.8" fill="#a02424" opacity="0.69"/>
<rect x="408.5" y="461.9" width="0.8" height="0.8" fill="#a02424" opacity="0.49"/>
<rect x="412.3" y="468.8" width="0.8" height="0.8" fill="#a02424" opacity="0.44"/>
<rect x="409.4" y="460.1" width="0.8" height="0.8" fill="#a02424" opacity="0.59"/>
<rect x="406.3" y="473.7" width="0.8" height="0.8" fill="#a02424" opacity="0.49"/>
<rect x="412.6" y="454.9" width="0.8" height="0.8" fill="#a02424" opacity="0.40"/>
<rect x="406.9" y="474.4" width="0.8" height="0.8" fill="#a02424" opacity="0.55"/>
<rect x="406.5" y="461.3" width="0.8" height="0.8" fill="#a02424" opacity="0.57"/>
<rect x="415.9" y="455.7" width="0.8" height="0.8" fill="#a02424" opacity="0.30"/>
<rect x="410.6" y="458.7" width="0.8" height="0.8" fill="#a02424" opacity="0.37"/>
<rect x="409.9" y="458.7" width="0.8" height="0.8" fill="#a02424" opacity="0.56"/>
<rect x="411.3" y="454.5" width="0.8" height="0.8" fill="#a02424" opacity="0.69"/>
<rect x="397.3" y="460.4" width="0.8" height="0.8" fill="#a02424" opacity="0.67"/>
<rect x="409.5" y="457.1" width="0.8" height="0.8" fill="#a02424" opacity="0.42"/>
<rect x="396.6" y="444.4" width="0.8" height="0.8" fill="#a02424" opacity="0.34"/>
<rect x="404.9" y="474.9" width="0.8" height="0.8" fill="#a02424" opacity="0.35"/>
<rect x="403.8" y="463.2" width="0.8" height="0.8" fill="#a02424" opacity="0.57"/>
<rect x="411.3" y="455.6" width="0.8" height="0.8" fill="#a02424" opacity="0.60"/>
<rect x="406.9" y="441.0" width="0.8" height="0.8" fill="#a02424" opacity="0.52"/>
<rect x="413.1" y="454.0" width="0.8" height="0.8" fill="#a02424" opacity="0.47"/>
<rect x="409.3" y="473.5" width="0.8" height="0.8" fill="#a02424" opacity="0.49"/>
<rect x="407.6" y="463.4" width="0.8" height="0.8" fill="#a02424" opacity="0.59"/>
<rect x="400.6" y="449.3" width="0.8" height="0.8" fill="#a02424" opacity="0.45"/>
<rect x="404.5" y="458.4" width="0.8" height="0.8" fill="#a02424" opacity="0.58"/>
<rect x="414.7" y="459.5" width="0.8" height="0.8" fill="#a02424" opacity="0.60"/>
<rect x="406.8" y="454.3" width="0.8" height="0.8" fill="#a02424" opacity="0.39"/>
<rect x="412.8" y="447.3" width="0.8" height="0.8" fill="#a02424" opacity="0.65"/>
<rect x="412.6" y="450.9" width="0.8" height="0.8" fill="#a02424" opacity="0.66"/>
<rect x="407.4" y="449.9" width="0.8" height="0.8" fill="#a02424" opacity="0.45"/>
<rect x="413.4" y="462.0" width="0.8" height="0.8" fill="#a02424" opacity="0.68"/>
<rect x="414.2" y="465.2" width="0.8" height="0.8" fill="#a02424" opacity="0.34"/>
<rect x="415.6" y="464.3" width="0.8" height="0.8" fill="#a02424" opacity="0.40"/>
<rect x="411.3" y="459.6" width="0.8" height="0.8" fill="#a02424" opacity="0.56"/>
<rect x="407.2" y="457.3" width="0.8" height="0.8" fill="#a02424" opacity="0.39"/>
<rect x="412.1" y="456.7" width="0.8" height="0.8" fill="#a02424" opacity="0.52"/>
<rect x="398.8" y="465.6" width="0.8" height="0.8" fill="#a02424" opacity="0.54"/>
<rect x="409.8" y="447.2" width="0.8" height="0.8" fill="#a02424" opacity="0.38"/>
<rect x="409.1" y="461.3" width="0.8" height="0.8" fill="#a02424" opacity="0.63"/>
<rect x="409.0" y="459.3" width="0.8" height="0.8" fill="#a02424" opacity="0.69"/>
<rect x="413.8" y="463.2" width="0.8" height="0.8" fill="#a02424" opacity="0.39"/>
<rect x="412.0" y="447.1" width="0.8" height="0.8" fill="#a02424" opacity="0.56"/>
<rect x="408.9" y="439.8" width="0.8" height="0.8" fill="#a02424" opacity="0.44"/>
<rect x="402.8" y="452.1" width="0.8" height="0.8" fill="#a02424" opacity="0.34"/>
<rect x="412.1" y="447.6" width="0.8" height="0.8" fill="#a02424" opacity="0.63"/>
<rect x="410.0" y="468.8" width="0.8" height="0.8" fill="#a02424" opacity="0.49"/>
<rect x="407.7" y="454.4" width="0.8" height="0.8" fill="#a02424" opacity="0.44"/>
<rect x="405.7" y="458.3" width="0.8" height="0.8" fill="#a02424" opacity="0.52"/>
<rect x="407.4" y="448.6" width="0.8" height="0.8" fill="#a02424" opacity="0.56"/>
<rect x="404.7" y="454.1" width="0.8" height="0.8" fill="#a02424" opacity="0.44"/>
<rect x="413.4" y="457.8" width="0.8" height="0.8" fill="#a02424" opacity="0.47"/>
<rect x="411.6" y="461.2" width="0.8" height="0.8" fill="#a02424" opacity="0.37"/>
<rect x="416.8" y="451.9" width="0.8" height="0.8" fill="#a02424" opacity="0.65"/>
<rect x="416.2" y="457.0" width="0.8" height="0.8" fill="#a02424" opacity="0.67"/>
<rect x="401.9" y="455.9" width="0.8" height="0.8" fill="#a02424" opacity="0.68"/>
<rect x="397.7" y="459.5" width="0.8" height="0.8" fill="#a02424" opacity="0.46"/>
<rect x="409.1" y="461.7" width="0.8" height="0.8" fill="#a02424" opacity="0.59"/>
<rect x="406.0" y="468.5" width="0.8" height="0.8" fill="#a02424" opacity="0.56"/>
<rect x="417.6" y="461.8" width="0.8" height="0.8" fill="#a02424" opacity="0.41"/>
<rect x="403.0" y="461.4" width="0.8" height="0.8" fill="#a02424" opacity="0.60"/>
<rect x="407.9" y="450.6" width="0.8" height="0.8" fill="#a02424" opacity="0.34"/>
<rect x="406.1" y="466.8" width="0.8" height="0.8" fill="#a02424" opacity="0.33"/>
<rect x="413.8" y="470.5" width="0.8" height="0.8" fill="#a02424" opacity="0.58"/>
<rect x="361.6" y="463.9" width="0.8" height="0.8" fill="#a02424" opacity="0.65"/>
<rect x="342.5" y="468.1" width="0.8" height="0.8" fill="#a02424" opacity="0.42"/>
<rect x="337.9" y="467.4" width="0.8" height="0.8" fill="#a02424" opacity="0.52"/>
<rect x="337.5" y="473.6" width="0.8" height="0.8" fill="#a02424" opacity="0.41"/>
<rect x="346.8" y="462.1" width="0.8" height="0.8" fill="#a02424" opacity="0.40"/>
<rect x="345.3" y="465.3" width="0.8" height="0.8" fill="#a02424" opacity="0.35"/>
<rect x="337.7" y="464.8" width="0.8" height="0.8" fill="#a02424" opacity="0.37"/>
<rect x="348.9" y="467.0" width="0.8" height="0.8" fill="#a02424" opacity="0.61"/>
<rect x="348.7" y="452.4" width="0.8" height="0.8" fill="#a02424" opacity="0.31"/>
<rect x="345.4" y="466.7" width="0.8" height="0.8" fill="#a02424" opacity="0.47"/>
<rect x="344.0" y="467.4" width="0.8" height="0.8" fill="#a02424" opacity="0.52"/>
<rect x="349.3" y="468.4" width="0.8" height="0.8" fill="#a02424" opacity="0.40"/>
<rect x="347.0" y="461.1" width="0.8" height="0.8" fill="#a02424" opacity="0.40"/>
<rect x="351.1" y="467.4" width="0.8" height="0.8" fill="#a02424" opacity="0.55"/>
<rect x="339.0" y="456.2" width="0.8" height="0.8" fill="#a02424" opacity="0.62"/>
<rect x="345.1" y="468.7" width="0.8" height="0.8" fill="#a02424" opacity="0.60"/>
<rect x="346.8" y="460.2" width="0.8" height="0.8" fill="#a02424" opacity="0.63"/>
<rect x="340.4" y="464.7" width="0.8" height="0.8" fill="#a02424" opacity="0.37"/>
<rect x="353.6" y="466.8" width="0.8" height="0.8" fill="#a02424" opacity="0.66"/>
<rect x="350.6" y="462.9" width="0.8" height="0.8" fill="#a02424" opacity="0.57"/>
<rect x="354.9" y="462.0" width="0.8" height="0.8" fill="#a02424" opacity="0.54"/>
<rect x="338.8" y="469.1" width="0.8" height="0.8" fill="#a02424" opacity="0.37"/>
<rect x="348.7" y="472.9" width="0.8" height="0.8" fill="#a02424" opacity="0.70"/>
<rect x="339.1" y="464.5" width="0.8" height="0.8" fill="#a02424" opacity="0.44"/>
<rect x="334.6" y="468.5" width="0.8" height="0.8" fill="#a02424" opacity="0.48"/>
<rect x="348.4" y="465.3" width="0.8" height="0.8" fill="#a02424" opacity="0.43"/>
<rect x="338.9" y="465.3" width="0.8" height="0.8" fill="#a02424" opacity="0.64"/>
<rect x="351.5" y="455.8" width="0.8" height="0.8" fill="#a02424" opacity="0.54"/>
<rect x="352.7" y="467.2" width="0.8" height="0.8" fill="#a02424" opacity="0.52"/>
<rect x="340.2" y="466.3" width="0.8" height="0.8" fill="#a02424" opacity="0.58"/>
<rect x="347.4" y="464.8" width="0.8" height="0.8" fill="#a02424" opacity="0.57"/>
<rect x="340.0" y="470.3" width="0.8" height="0.8" fill="#a02424" opacity="0.66"/>
<rect x="353.4" y="464.2" width="0.8" height="0.8" fill="#a02424" opacity="0.38"/>
<rect x="348.3" y="464.5" width="0.8" height="0.8" fill="#a02424" opacity="0.45"/>
<rect x="347.5" y="462.2" width="0.8" height="0.8" fill="#a02424" opacity="0.41"/>
<rect x="358.7" y="462.3" width="0.8" height="0.8" fill="#a02424" opacity="0.43"/>
<rect x="341.2" y="468.5" width="0.8" height="0.8" fill="#a02424" opacity="0.35"/>
<rect x="332.5" y="486.5" width="86.5" height="6" fill="#2c2c2c"/>
</g>
<line x1="378.1" y1="424.2" x2="369.6" y2="431.9" stroke="#f4f4f4" stroke-width="1.4" marker-end="url(#ah)"/>
<line x1="394.6" y1="422.7" x2="401.2" y2="431.3" stroke="#f4f4f4" stroke-width="1.4" marker-end="url(#ah)"/>
<line x1="392.8" y1="454.2" x2="402.1" y2="456.2" stroke="#f4f4f4" stroke-width="1.4" marker-end="url(#ah)"/>
<rect x="338" y="483.8" width="34" height="2" fill="#f2f2f2"/>
<g clip-path="url(#c2R)">
<rect x="426.5" y="416.5" width="83.5" height="75.8" fill="#233b20"/>
<path d="M426.5,416.5 L458,416.5 Q459,427 447,430 Q435,432 426.5,430 Z" fill="#151e13" opacity="0.9"/>
<path d="M496,416.5 L510,416.5 L510,430 Q500,426 496,416.5 Z" fill="#151e13" opacity="0.9"/>
<ellipse cx="466" cy="455" rx="9" ry="16" fill="url(#orhaze)"/>
<rect x="426.5" y="486" width="83.5" height="6.3" fill="#121912"/>
</g>
<path d="M455.3,422 L473.3,428.6 L481.3,428.6 L499.8,420.6" fill="none" stroke="#f0f0e4" stroke-width="1.5" stroke-linecap="round" stroke-linejoin="round"/>
<path d="M449.4,425.9 L453.8,433 L453.8,454.2 L457.4,468.4 L460,476.3 L468,482.5 L499.8,482.5 L499.8,476.3 L494.5,463 L498,445.4 L507,429.5" fill="none" stroke="#f0f0e4" stroke-width="1.5" stroke-linecap="round" stroke-linejoin="round" stroke-dasharray="3 2.3" stroke-linecap="butt"/>
<line x1="441.1" y1="471" x2="452.9" y2="454.6" stroke="#f4f4f4" stroke-width="1.4" marker-end="url(#ah)"/>
<rect x="432.6" y="483.8" width="29.2" height="2" fill="#f2f2f2"/>
<g clip-path="url(#c3L)">
<rect x="332.5" y="498" width="86.5" height="75.5" fill="url(#upg3)"/>
<rect x="332.5" y="498" width="86.5" height="2.6" fill="#262626"/>
<ellipse cx="385" cy="499" rx="30" ry="5" fill="#2a2a2a" opacity="0.8" filter="url(#blur2)"/>
<rect x="332.5" y="567.8" width="86.5" height="5.7" fill="#1c1c1c"/>
<rect x="332.5" y="498" width="86.5" height="75.5" filter="url(#noise)" opacity="0.05"/>
<circle cx="340.7" cy="529.2" r="0.37" fill="#b03030" opacity="0.61"/>
<circle cx="396.4" cy="537.3" r="0.56" fill="#b03030" opacity="0.65"/>
<circle cx="402.7" cy="539.4" r="0.59" fill="#b03030" opacity="0.43"/>
<circle cx="356.5" cy="528.4" r="0.47" fill="#b03030" opacity="0.51"/>
<circle cx="379.9" cy="537.8" r="0.59" fill="#b03030" opacity="0.46"/>
<circle cx="410.1" cy="531.0" r="0.39" fill="#b03030" opacity="0.80"/>
<circle cx="390.7" cy="523.3" r="0.36" fill="#b03030" opacity="0.70"/>
<circle cx="348.8" cy="521.8" r="0.40" fill="#b03030" opacity="0.73"/>
<circle cx="407.5" cy="562.0" r="0.48" fill="#b03030" opacity="0.55"/>
<circle cx="343.0" cy="538.8" r="0.45" fill="#b03030" opacity="0.80"/>
<circle cx="357.6" cy="533.3" r="0.38" fill="#b03030" opacity="0.54"/>
<circle cx="410.9" cy="533.8" r="0.37" fill="#b03030" opacity="0.48"/>
<circle cx="354.7" cy="527.2" r="0.44" fill="#b03030" opacity="0.78"/>
<circle cx="374.7" cy="524.5" r="0.36" fill="#b03030" opacity="0.54"/>
<circle cx="396.8" cy="516.4" r="0.55" fill="#b03030" opacity="0.63"/>
<circle cx="373.0" cy="513.3" r="0.48" fill="#b03030" opacity="0.73"/>
<circle cx="350.8" cy="524.4" r="0.50" fill="#b03030" opacity="0.77"/>
<circle cx="405.3" cy="543.4" r="0.56" fill="#b03030" opacity="0.47"/>
<circle cx="356.3" cy="560.5" r="0.40" fill="#b03030" opacity="0.42"/>
<circle cx="416.2" cy="504.1" r="0.38" fill="#b03030" opacity="0.41"/>
<circle cx="407.1" cy="543.3" r="0.55" fill="#b03030" opacity="0.80"/>
<circle cx="391.6" cy="504.4" r="0.37" fill="#b03030" opacity="0.62"/>
<circle cx="371.1" cy="524.2" r="0.39" fill="#b03030" opacity="0.64"/>
<circle cx="361.1" cy="514.5" r="0.43" fill="#b03030" opacity="0.54"/>
<circle cx="384.5" cy="527.5" r="0.60" fill="#b03030" opacity="0.77"/>
<circle cx="406.4" cy="533.9" r="0.59" fill="#b03030" opacity="0.51"/>
<circle cx="344.3" cy="518.1" r="0.48" fill="#b03030" opacity="0.69"/>
<circle cx="362.6" cy="521.0" r="0.59" fill="#b03030" opacity="0.58"/>
<circle cx="374.1" cy="519.0" r="0.48" fill="#b03030" opacity="0.75"/>
<circle cx="416.9" cy="513.1" r="0.50" fill="#b03030" opacity="0.43"/>
<circle cx="369.7" cy="525.3" r="0.56" fill="#b03030" opacity="0.71"/>
<circle cx="339.0" cy="536.4" r="0.60" fill="#b03030" opacity="0.55"/>
<circle cx="352.0" cy="517.1" r="0.49" fill="#b03030" opacity="0.75"/>
<circle cx="370.2" cy="542.9" r="0.44" fill="#b03030" opacity="0.52"/>
<circle cx="376.4" cy="511.7" r="0.45" fill="#b03030" opacity="0.55"/>
<circle cx="388.7" cy="541.1" r="0.39" fill="#b03030" opacity="0.49"/>
<circle cx="365.2" cy="514.9" r="0.50" fill="#b03030" opacity="0.46"/>
<circle cx="340.9" cy="523.1" r="0.36" fill="#b03030" opacity="0.62"/>
<circle cx="411.4" cy="538.3" r="0.48" fill="#b03030" opacity="0.69"/>
<circle cx="403.6" cy="544.2" r="0.46" fill="#b03030" opacity="0.67"/>
<circle cx="407.9" cy="516.5" r="0.57" fill="#b03030" opacity="0.51"/>
<circle cx="350.0" cy="539.0" r="0.56" fill="#b03030" opacity="0.64"/>
<circle cx="341.1" cy="540.8" r="0.35" fill="#b03030" opacity="0.73"/>
<circle cx="349.4" cy="530.3" r="0.42" fill="#b03030" opacity="0.56"/>
<circle cx="377.0" cy="510.0" r="0.51" fill="#b03030" opacity="0.57"/>
<circle cx="342.2" cy="536.1" r="0.59" fill="#b03030" opacity="0.68"/>
<circle cx="341.0" cy="506.1" r="0.60" fill="#b03030" opacity="0.43"/>
<circle cx="334.8" cy="536.4" r="0.47" fill="#b03030" opacity="0.57"/>
<circle cx="409.1" cy="533.8" r="0.45" fill="#b03030" opacity="0.63"/>
<circle cx="408.3" cy="516.9" r="0.40" fill="#b03030" opacity="0.56"/>
<circle cx="341.4" cy="525.9" r="0.58" fill="#b03030" opacity="0.61"/>
<circle cx="382.2" cy="525.5" r="0.37" fill="#b03030" opacity="0.49"/>
<circle cx="373.4" cy="538.9" r="0.42" fill="#b03030" opacity="0.79"/>
<circle cx="389.6" cy="514.4" r="0.48" fill="#b03030" opacity="0.48"/>
<circle cx="359.1" cy="534.0" r="0.48" fill="#b03030" opacity="0.65"/>
<circle cx="363.8" cy="523.6" r="0.54" fill="#b03030" opacity="0.76"/>
<circle cx="406.0" cy="527.3" r="0.36" fill="#b03030" opacity="0.57"/>
<circle cx="360.2" cy="518.6" r="0.40" fill="#b03030" opacity="0.75"/>
<circle cx="352.1" cy="542.6" r="0.38" fill="#b03030" opacity="0.77"/>
<circle cx="351.8" cy="529.5" r="0.47" fill="#b03030" opacity="0.55"/>
<circle cx="405.5" cy="531.6" r="0.56" fill="#b03030" opacity="0.42"/>
<circle cx="367.7" cy="521.3" r="0.41" fill="#b03030" opacity="0.51"/>
<circle cx="392.3" cy="533.6" r="0.44" fill="#b03030" opacity="0.44"/>
<circle cx="352.5" cy="511.1" r="0.41" fill="#b03030" opacity="0.68"/>
<circle cx="352.1" cy="534.4" r="0.52" fill="#b03030" opacity="0.64"/>
<circle cx="348.8" cy="528.1" r="0.48" fill="#b03030" opacity="0.64"/>
<circle cx="386.8" cy="514.0" r="0.46" fill="#b03030" opacity="0.42"/>
<circle cx="400.1" cy="538.3" r="0.49" fill="#b03030" opacity="0.51"/>
<circle cx="409.5" cy="515.5" r="0.52" fill="#b03030" opacity="0.49"/>
<circle cx="402.7" cy="540.9" r="0.60" fill="#b03030" opacity="0.59"/>
<circle cx="349.0" cy="526.9" r="0.53" fill="#b03030" opacity="0.54"/>
<circle cx="395.5" cy="522.2" r="0.48" fill="#b03030" opacity="0.74"/>
<circle cx="374.1" cy="524.7" r="0.48" fill="#b03030" opacity="0.75"/>
<circle cx="371.5" cy="509.5" r="0.56" fill="#b03030" opacity="0.48"/>
<circle cx="341.9" cy="528.9" r="0.54" fill="#b03030" opacity="0.62"/>
<circle cx="359.4" cy="550.7" r="0.49" fill="#b03030" opacity="0.80"/>
<circle cx="404.2" cy="509.8" r="0.54" fill="#b03030" opacity="0.52"/>
<circle cx="334.9" cy="518.1" r="0.44" fill="#b03030" opacity="0.59"/>
<circle cx="381.6" cy="507.4" r="0.41" fill="#b03030" opacity="0.68"/>
<circle cx="381.3" cy="522.9" r="0.49" fill="#b03030" opacity="0.53"/>
<circle cx="394.9" cy="532.4" r="0.39" fill="#b03030" opacity="0.56"/>
<circle cx="350.5" cy="512.6" r="0.38" fill="#b03030" opacity="0.42"/>
<circle cx="374.5" cy="538.0" r="0.40" fill="#b03030" opacity="0.60"/>
<circle cx="348.0" cy="542.0" r="0.58" fill="#b03030" opacity="0.75"/>
<circle cx="377.3" cy="538.3" r="0.45" fill="#b03030" opacity="0.43"/>
<circle cx="357.2" cy="514.9" r="0.38" fill="#b03030" opacity="0.78"/>
<circle cx="374.0" cy="558.7" r="0.46" fill="#b03030" opacity="0.50"/>
<circle cx="414.9" cy="535.1" r="0.48" fill="#b03030" opacity="0.48"/>
<circle cx="352.7" cy="544.8" r="0.60" fill="#b03030" opacity="0.72"/>
<circle cx="395.6" cy="533.2" r="0.53" fill="#b03030" opacity="0.70"/>
<circle cx="352.9" cy="524.3" r="0.46" fill="#b03030" opacity="0.79"/>
<circle cx="361.4" cy="528.7" r="0.52" fill="#b03030" opacity="0.51"/>
<circle cx="376.7" cy="519.6" r="0.44" fill="#b03030" opacity="0.75"/>
<circle cx="396.6" cy="506.7" r="0.46" fill="#b03030" opacity="0.72"/>
<circle cx="355.6" cy="527.4" r="0.49" fill="#b03030" opacity="0.63"/>
<circle cx="366.6" cy="536.2" r="0.51" fill="#b03030" opacity="0.48"/>
<circle cx="397.7" cy="530.5" r="0.48" fill="#b03030" opacity="0.78"/>
<circle cx="405.2" cy="526.1" r="0.36" fill="#b03030" opacity="0.62"/>
<circle cx="396.6" cy="514.6" r="0.58" fill="#b03030" opacity="0.48"/>
<circle cx="347.3" cy="550.8" r="0.47" fill="#b03030" opacity="0.70"/>
<circle cx="346.6" cy="525.2" r="0.49" fill="#b03030" opacity="0.67"/>
<circle cx="384.7" cy="532.0" r="0.51" fill="#b03030" opacity="0.75"/>
<circle cx="345.6" cy="534.4" r="0.35" fill="#b03030" opacity="0.43"/>
<circle cx="400.0" cy="516.1" r="0.60" fill="#b03030" opacity="0.64"/>
<circle cx="356.1" cy="537.8" r="0.53" fill="#b03030" opacity="0.40"/>
<circle cx="357.6" cy="525.3" r="0.36" fill="#b03030" opacity="0.61"/>
<circle cx="361.5" cy="519.9" r="0.59" fill="#b03030" opacity="0.44"/>
</g>
<line x1="356.9" y1="538.7" x2="370.2" y2="531.4" stroke="#f4f4f4" stroke-width="1.4" marker-end="url(#ah)"/>
<line x1="372.5" y1="545.2" x2="388.4" y2="554.6" stroke="#f4f4f4" stroke-width="1.4" marker-end="url(#ah)"/>
<rect x="338" y="565.6" width="34" height="2" fill="#f2f2f2"/>
<g clip-path="url(#c3R)">
<rect x="426.5" y="497.4" width="83.5" height="75.8" fill="#172216"/>
<ellipse cx="471" cy="499" rx="31" ry="26" fill="#2a512a" filter="url(#blur3)"/>
<rect x="449.9" y="520.6" width="0.8" height="0.8" fill="#a03020" opacity="0.62"/>
<rect x="439.6" y="535.0" width="0.8" height="0.8" fill="#a03020" opacity="0.43"/>
<rect x="449.0" y="540.8" width="0.8" height="0.8" fill="#a03020" opacity="0.62"/>
<rect x="445.6" y="536.0" width="0.8" height="0.8" fill="#a03020" opacity="0.47"/>
<rect x="452.3" y="534.9" width="0.8" height="0.8" fill="#a03020" opacity="0.53"/>
<rect x="440.2" y="526.2" width="0.8" height="0.8" fill="#a03020" opacity="0.42"/>
<rect x="449.4" y="530.4" width="0.8" height="0.8" fill="#a03020" opacity="0.44"/>
<rect x="450.6" y="542.2" width="0.8" height="0.8" fill="#a03020" opacity="0.41"/>
<rect x="448.6" y="516.5" width="0.8" height="0.8" fill="#a03020" opacity="0.56"/>
<rect x="447.3" y="517.9" width="0.8" height="0.8" fill="#a03020" opacity="0.47"/>
<rect x="447.2" y="533.4" width="0.8" height="0.8" fill="#a03020" opacity="0.62"/>
<rect x="445.2" y="530.0" width="0.8" height="0.8" fill="#a03020" opacity="0.67"/>
<rect x="440.7" y="523.1" width="0.8" height="0.8" fill="#a03020" opacity="0.48"/>
<rect x="464.5" y="557.9" width="0.8" height="0.8" fill="#a03020" opacity="0.37"/>
<rect x="432.7" y="558.5" width="0.8" height="0.8" fill="#a03020" opacity="0.35"/>
<rect x="441.1" y="530.0" width="0.8" height="0.8" fill="#a03020" opacity="0.40"/>
<rect x="453.5" y="525.3" width="0.8" height="0.8" fill="#a03020" opacity="0.30"/>
<rect x="447.4" y="530.2" width="0.8" height="0.8" fill="#a03020" opacity="0.58"/>
<rect x="456.9" y="514.1" width="0.8" height="0.8" fill="#a03020" opacity="0.32"/>
<rect x="445.7" y="522.4" width="0.8" height="0.8" fill="#a03020" opacity="0.49"/>
<rect x="446.4" y="538.1" width="0.8" height="0.8" fill="#a03020" opacity="0.35"/>
<rect x="446.2" y="526.9" width="0.8" height="0.8" fill="#a03020" opacity="0.69"/>
<rect x="462.9" y="537.0" width="0.8" height="0.8" fill="#a03020" opacity="0.38"/>
<rect x="456.6" y="538.3" width="0.8" height="0.8" fill="#a03020" opacity="0.51"/>
<rect x="448.8" y="518.2" width="0.8" height="0.8" fill="#a03020" opacity="0.55"/>
<rect x="455.8" y="537.4" width="0.8" height="0.8" fill="#a03020" opacity="0.50"/>
<rect x="448.7" y="529.7" width="0.8" height="0.8" fill="#a03020" opacity="0.33"/>
<rect x="441.9" y="509.6" width="0.8" height="0.8" fill="#a03020" opacity="0.47"/>
<rect x="446.1" y="517.6" width="0.8" height="0.8" fill="#a03020" opacity="0.46"/>
<rect x="440.1" y="532.9" width="0.8" height="0.8" fill="#a03020" opacity="0.31"/>
<path d="M497,497.4 L510,497.4 L510,512 Q503,503 497,497.4 Z" fill="#111810" opacity="0.8"/>
<rect x="426.5" y="567" width="83.5" height="6.2" fill="#0f140f"/>
</g>
<path d="M441.1,503.3 Q442.5,509 445,513 Q451,521 459.2,526.3 Q467,531 475.1,532.1 Q480,532.2 484,529.8 Q489.5,526 492.8,520 Q496.5,512 497.6,507" fill="none" stroke="#f0f0e4" stroke-width="1.5" stroke-linecap="round" stroke-linejoin="round" marker-end="url(#ahs)"/>
<path d="M457.4,526.3 Q468,524.5 478.6,521.8 Q487,517 492.8,512 Q495.5,509 497.2,505.9" fill="none" stroke="#f0f0e4" stroke-width="1.5" stroke-linecap="round" stroke-linejoin="round" stroke-dasharray="3 2.3" stroke-linecap="butt"/>
<line x1="454.7" y1="555.5" x2="454.7" y2="539" stroke="#f4f4f4" stroke-width="1.4" marker-end="url(#ah)"/>
<rect x="432.6" y="566" width="29.2" height="2" fill="#f2f2f2"/>
<text x="183.5" y="409.2" font-size="13" text-anchor="middle" font-weight="normal" fill="#050505" >Clot Dynamics</text>
<line x1="64.4" y1="430.2" x2="64.4" y2="548" stroke="#111" stroke-width="1.5" />
<line x1="63.650000000000006" y1="519" x2="301.8" y2="519" stroke="#111" stroke-width="1.5" />
<line x1="63.650000000000006" y1="547.3" x2="301.8" y2="547.3" stroke="#111" stroke-width="1.5" />
<line x1="60.2" y1="434.2" x2="64.4" y2="434.2" stroke="#111" stroke-width="1.4" />
<text x="56.2" y="438.2" font-size="11.5" text-anchor="end" font-weight="normal" fill="#050505" >1500</text>
<line x1="60.2" y1="462.5" x2="64.4" y2="462.5" stroke="#111" stroke-width="1.4" />
<text x="56.2" y="466.5" font-size="11.5" text-anchor="end" font-weight="normal" fill="#050505" >1000</text>
<line x1="60.2" y1="490.8" x2="64.4" y2="490.8" stroke="#111" stroke-width="1.4" />
<text x="56.2" y="494.8" font-size="11.5" text-anchor="end" font-weight="normal" fill="#050505" >500</text>
<line x1="60.2" y1="519" x2="64.4" y2="519" stroke="#111" stroke-width="1.4" />
<text x="56.2" y="523" font-size="11.5" text-anchor="end" font-weight="normal" fill="#050505" >0</text>
<line x1="60.2" y1="547.3" x2="64.4" y2="547.3" stroke="#111" stroke-width="1.4" />
<text x="56.2" y="551.3" font-size="11.5" text-anchor="end" font-weight="normal" fill="#050505" >-500</text>
<g transform="translate(21.70,495.75) rotate(-90) scale(0.7410,1)"><text x="0" y="0" font-size="13.4" font-weight="normal" fill="#111" stroke="#111" stroke-width="0.45">μM</text></g>
<line x1="83.8" y1="499.7" x2="83.8" y2="492.1" stroke="#111" stroke-width="1.3" />
<line x1="78.8" y1="492.1" x2="88.8" y2="492.1" stroke="#111" stroke-width="1.3" />
<rect x="74.3" y="499.7" width="19" height="19.30000000000001" fill="#a8002f"/>
<line x1="83.8" y1="547.3" x2="83.8" y2="551.5" stroke="#111" stroke-width="1.3" />
<line x1="112.19999999999999" y1="461.2" x2="112.19999999999999" y2="455.8" stroke="#111" stroke-width="1.3" />
<line x1="107.19999999999999" y1="455.8" x2="117.19999999999999" y2="455.8" stroke="#111" stroke-width="1.3" />
<rect x="102.69999999999999" y="461.2" width="19" height="57.80000000000001" fill="#2d4f8b"/>
<line x1="112.19999999999999" y1="547.3" x2="112.19999999999999" y2="551.5" stroke="#111" stroke-width="1.3" />
<line x1="140.6" y1="505" x2="140.6" y2="500.7" stroke="#111" stroke-width="1.3" />
<line x1="135.6" y1="500.7" x2="145.6" y2="500.7" stroke="#111" stroke-width="1.3" />
<rect x="131.1" y="505" width="19" height="14" fill="#72b545"/>
<line x1="140.6" y1="547.3" x2="140.6" y2="551.5" stroke="#111" stroke-width="1.3" />
<line x1="169.0" y1="516.2" x2="169.0" y2="514.6" stroke="#111" stroke-width="1.3" />
<line x1="164.0" y1="514.6" x2="174.0" y2="514.6" stroke="#111" stroke-width="1.3" />
<rect x="159.5" y="516.2" width="19" height="2.7999999999999545" fill="#5c2d82"/>
<line x1="169.0" y1="547.3" x2="169.0" y2="551.5" stroke="#111" stroke-width="1.3" />
<line x1="197.39999999999998" y1="529.4" x2="197.39999999999998" y2="542.3" stroke="#111" stroke-width="1.3" />
<line x1="192.39999999999998" y1="542.3" x2="202.39999999999998" y2="542.3" stroke="#111" stroke-width="1.3" />
<rect x="187.89999999999998" y="519" width="19" height="10.399999999999977" fill="#a8002f"/>
<line x1="197.39999999999998" y1="547.3" x2="197.39999999999998" y2="551.5" stroke="#111" stroke-width="1.3" />
<line x1="225.8" y1="520.2" x2="225.8" y2="523.8" stroke="#111" stroke-width="1.3" />
<line x1="220.8" y1="523.8" x2="230.8" y2="523.8" stroke="#111" stroke-width="1.3" />
<rect x="216.3" y="519" width="19" height="1.2000000000000455" fill="#a9b8d8"/>
<line x1="225.8" y1="547.3" x2="225.8" y2="551.5" stroke="#111" stroke-width="1.3" />
<line x1="254.2" y1="521.4" x2="254.2" y2="529.4" stroke="#111" stroke-width="1.3" />
<line x1="249.2" y1="529.4" x2="259.2" y2="529.4" stroke="#111" stroke-width="1.3" />
<rect x="244.7" y="519" width="19" height="2.3999999999999773" fill="#72b545"/>
<line x1="254.2" y1="547.3" x2="254.2" y2="551.5" stroke="#111" stroke-width="1.3" />
<line x1="282.59999999999997" y1="523.7" x2="282.59999999999997" y2="542.5" stroke="#111" stroke-width="1.3" />
<line x1="277.59999999999997" y1="542.5" x2="287.59999999999997" y2="542.5" stroke="#111" stroke-width="1.3" />
<rect x="273.09999999999997" y="519" width="19" height="4.7000000000000455" fill="#5c2d82"/>
<line x1="282.59999999999997" y1="547.3" x2="282.59999999999997" y2="551.5" stroke="#111" stroke-width="1.3" />
<line x1="63.650000000000006" y1="519" x2="301.8" y2="519" stroke="#111" stroke-width="1.5" />
<path d="M83.6,457.1 L83.6,430 L282.4,430" fill="none" stroke="#111" stroke-width="1.3"/>
<path d="M112.3,445 L112.3,438.5 L282.4,438.5" fill="none" stroke="#111" stroke-width="1.3"/>
<path d="M142.8,483.2 L142.8,448.9 L197.2,448.9" fill="none" stroke="#111" stroke-width="1.3"/>
<text x="112.7" y="432.0" font-size="10.5" text-anchor="middle" font-weight="bold" fill="#050505" letter-spacing="0.1">****</text>
<text x="200" y="432.0" font-size="10.5" text-anchor="middle" font-weight="bold" fill="#050505" letter-spacing="0.1">***</text>
<text x="256.3" y="432.0" font-size="10.5" text-anchor="middle" font-weight="bold" fill="#050505" letter-spacing="0.1">*</text>
<text x="282.2" y="432.0" font-size="10.5" text-anchor="middle" font-weight="bold" fill="#050505" letter-spacing="0.1">*</text>
<text x="140.2" y="441.5" font-size="10.5" text-anchor="middle" font-weight="bold" fill="#050505" letter-spacing="0.1">****</text>
<text x="171.1" y="441.5" font-size="10.5" text-anchor="middle" font-weight="bold" fill="#050505" letter-spacing="0.1">****</text>
<text x="200.6" y="441.5" font-size="10.5" text-anchor="middle" font-weight="bold" fill="#050505" letter-spacing="0.1">****</text>
<text x="227.7" y="441.5" font-size="10.5" text-anchor="middle" font-weight="bold" fill="#050505" letter-spacing="0.1">****</text>
<text x="255.4" y="441.5" font-size="10.5" text-anchor="middle" font-weight="bold" fill="#050505" letter-spacing="0.1">****</text>
<text x="283" y="441.5" font-size="10.5" text-anchor="middle" font-weight="bold" fill="#050505" letter-spacing="0.1">****</text>
<text x="197" y="450.7" font-size="10.5" text-anchor="middle" font-weight="bold" fill="#050505" letter-spacing="0.1">*</text>
<text transform="translate(88.0,560.6) rotate(-45)" x="0" y="0" font-size="11" text-anchor="end" fill="#111">Control (Fib and Th)</text>
<text transform="translate(116.39999999999999,560.6) rotate(-45)" x="0" y="0" font-size="11" text-anchor="end" fill="#111">+FSN</text>
<text transform="translate(173.2,560.6) rotate(-45)" x="0" y="0" font-size="11" text-anchor="end" fill="#111">+FSN and -Th</text>
<text transform="translate(201.59999999999997,560.6) rotate(-45)" x="0" y="0" font-size="11" text-anchor="end" fill="#111">+tPA-FSN</text>
<text transform="translate(230.0,560.6) rotate(-45)" x="0" y="0" font-size="11" text-anchor="end" fill="#111">+tPA alone</text>
<text transform="translate(258.4,560.6) rotate(-45)" x="0" y="0" font-size="11" text-anchor="end" fill="#111">+tPA-C/S</text>
<text transform="translate(286.79999999999995,560.6) rotate(-45)" x="0" y="0" font-size="11" text-anchor="end" fill="#111">+tPA-C/S-IgG</text>
<text transform="translate(135.98219999999998,561.7822) rotate(-45)" x="0" y="0" font-size="11" text-anchor="end" fill="#111">+Non-binding</text>
<text transform="translate(146.37509999999997,572.1751) rotate(-45)" x="0" y="0" font-size="11" text-anchor="end" fill="#111">C/S microgels</text>
<rect x="0" y="0" width="520" height="1" fill="#000"/>
<rect x="0" y="0" width="1" height="638" fill="#000"/>
<rect x="518.6" y="0" width="1.4" height="638" fill="#000"/>
<rect x="0" y="636.6" width="520" height="1.4" fill="#000"/>
</svg></body></html>
